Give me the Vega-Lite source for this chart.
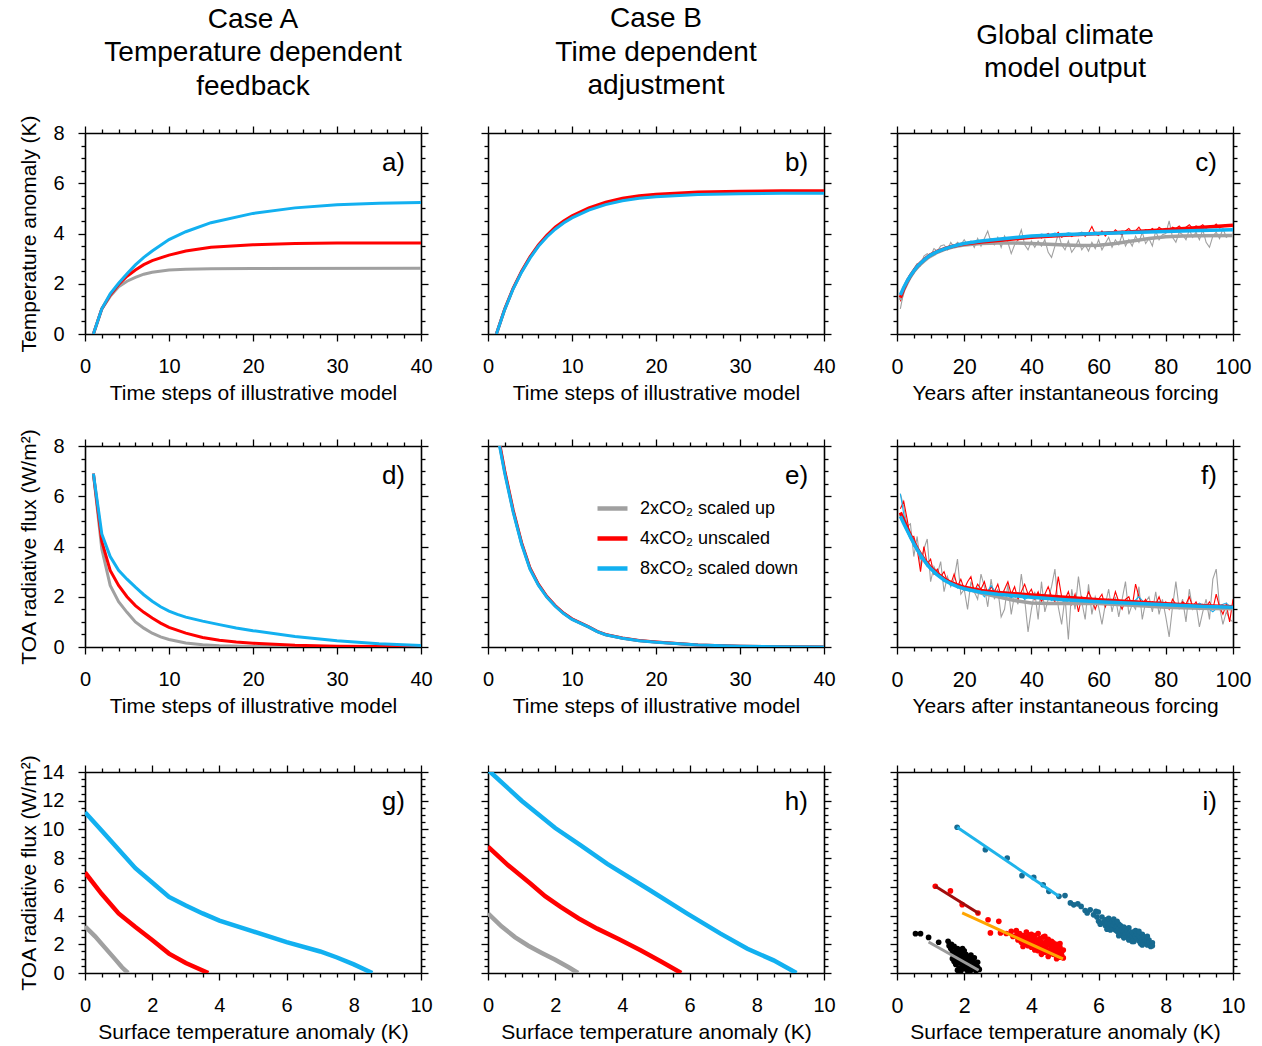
{
"$schema": "https://vega.github.io/schema/vega-lite/v6.json",
"padding": {"left": 17, "top": 5, "right": 5, "bottom": 5},
"config": {
  "view": {"stroke": null},
  "font": "Liberation Sans",
  "axis": {"grid": false, "domainColor": "#000000", "tickColor": "#000000", "labelColor": "#000000", "titleColor": "#000000", "domainWidth": 1.6, "tickWidth": 1.3, "labelFont": "Liberation Sans", "titleFont": "Liberation Sans", "labelFontSize": 20, "titleFontSize": 21, "titleFontWeight": "normal", "labelFlush": false, "labelOverlap": false, "minExtent": 0},
  "title": {"font": "Liberation Sans", "fontWeight": "normal", "color": "#000000", "fontSize": 28, "lineHeight": 33.5, "anchor": "middle", "frame": "group"}
},
"columns": 3,
"align": "each",
"spacing": {"row": 25, "column": 30},
"resolve": {"scale": {"x": "independent", "y": "independent", "color": "independent"}, "axis": {"x": "independent", "y": "independent"}, "legend": {"color": "independent"}},
"datasets": {
"a": [
{"x":1,"y":0,"s":"2x"},{"x":2,"y":1.0,"s":"2x"},{"x":3,"y":1.5,"s":"2x"},{"x":4,"y":1.88,"s":"2x"},{"x":5,"y":2.1,"s":"2x"},{"x":6,"y":2.25,"s":"2x"},{"x":7,"y":2.38,"s":"2x"},{"x":8,"y":2.46,"s":"2x"},{"x":10,"y":2.55,"s":"2x"},{"x":12,"y":2.58,"s":"2x"},{"x":15,"y":2.6,"s":"2x"},{"x":20,"y":2.61,"s":"2x"},{"x":40,"y":2.62,"s":"2x"},
{"x":1,"y":0,"s":"4x"},{"x":2,"y":1.0,"s":"4x"},{"x":3,"y":1.55,"s":"4x"},{"x":4,"y":1.97,"s":"4x"},{"x":5,"y":2.3,"s":"4x"},{"x":6,"y":2.55,"s":"4x"},{"x":7,"y":2.76,"s":"4x"},{"x":8,"y":2.92,"s":"4x"},{"x":10,"y":3.14,"s":"4x"},{"x":12,"y":3.3,"s":"4x"},{"x":15,"y":3.45,"s":"4x"},{"x":20,"y":3.55,"s":"4x"},{"x":25,"y":3.6,"s":"4x"},{"x":30,"y":3.62,"s":"4x"},{"x":40,"y":3.62,"s":"4x"},
{"x":1,"y":0,"s":"8x"},{"x":2,"y":1.0,"s":"8x"},{"x":3,"y":1.6,"s":"8x"},{"x":4,"y":2.02,"s":"8x"},{"x":5,"y":2.4,"s":"8x"},{"x":6,"y":2.75,"s":"8x"},{"x":7,"y":3.05,"s":"8x"},{"x":8,"y":3.3,"s":"8x"},{"x":10,"y":3.76,"s":"8x"},{"x":12,"y":4.07,"s":"8x"},{"x":15,"y":4.43,"s":"8x"},{"x":20,"y":4.8,"s":"8x"},{"x":25,"y":5.02,"s":"8x"},{"x":30,"y":5.14,"s":"8x"},{"x":35,"y":5.2,"s":"8x"},{"x":40,"y":5.23,"s":"8x"}
],
"b": [
{"x":1,"y":0,"s":"2x"},{"x":2,"y":0.99,"s":"2x"},{"x":3,"y":1.81,"s":"2x"},{"x":4,"y":2.48,"s":"2x"},{"x":5,"y":3.04,"s":"2x"},{"x":6,"y":3.51,"s":"2x"},{"x":7,"y":3.89,"s":"2x"},{"x":8,"y":4.2,"s":"2x"},{"x":9,"y":4.45,"s":"2x"},{"x":10,"y":4.65,"s":"2x"},{"x":12,"y":4.97,"s":"2x"},{"x":14,"y":5.19,"s":"2x"},{"x":16,"y":5.34,"s":"2x"},{"x":18,"y":5.44,"s":"2x"},{"x":20,"y":5.5,"s":"2x"},{"x":25,"y":5.59,"s":"2x"},{"x":30,"y":5.62,"s":"2x"},{"x":35,"y":5.64,"s":"2x"},{"x":40,"y":5.64,"s":"2x"},
{"x":1,"y":0,"s":"4x"},{"x":2,"y":1.0,"s":"4x"},{"x":3,"y":1.83,"s":"4x"},{"x":4,"y":2.5,"s":"4x"},{"x":5,"y":3.07,"s":"4x"},{"x":6,"y":3.55,"s":"4x"},{"x":7,"y":3.93,"s":"4x"},{"x":8,"y":4.25,"s":"4x"},{"x":9,"y":4.5,"s":"4x"},{"x":10,"y":4.7,"s":"4x"},{"x":12,"y":5.02,"s":"4x"},{"x":14,"y":5.25,"s":"4x"},{"x":16,"y":5.4,"s":"4x"},{"x":18,"y":5.5,"s":"4x"},{"x":20,"y":5.56,"s":"4x"},{"x":25,"y":5.65,"s":"4x"},{"x":30,"y":5.68,"s":"4x"},{"x":35,"y":5.7,"s":"4x"},{"x":40,"y":5.7,"s":"4x"},
{"x":1,"y":0,"s":"8x"},{"x":2,"y":0.98,"s":"8x"},{"x":3,"y":1.8,"s":"8x"},{"x":4,"y":2.46,"s":"8x"},{"x":5,"y":3.02,"s":"8x"},{"x":6,"y":3.49,"s":"8x"},{"x":7,"y":3.86,"s":"8x"},{"x":8,"y":4.17,"s":"8x"},{"x":9,"y":4.42,"s":"8x"},{"x":10,"y":4.62,"s":"8x"},{"x":12,"y":4.93,"s":"8x"},{"x":14,"y":5.15,"s":"8x"},{"x":16,"y":5.3,"s":"8x"},{"x":18,"y":5.4,"s":"8x"},{"x":20,"y":5.46,"s":"8x"},{"x":25,"y":5.55,"s":"8x"},{"x":30,"y":5.58,"s":"8x"},{"x":35,"y":5.6,"s":"8x"},{"x":40,"y":5.6,"s":"8x"}
],
"c": [
{"x":1,"y":1.0,"s":"2x","k":"a"},{"x":2,"y":1.7,"s":"2x","k":"a"},{"x":3,"y":2.2,"s":"2x","k":"a"},{"x":4,"y":2.2,"s":"2x","k":"a"},{"x":5,"y":2.6,"s":"2x","k":"a"},{"x":6,"y":2.8,"s":"2x","k":"a"},{"x":7,"y":2.7,"s":"2x","k":"a"},{"x":8,"y":3.1,"s":"2x","k":"a"},{"x":9,"y":3.2,"s":"2x","k":"a"},{"x":10,"y":3.1,"s":"2x","k":"a"},
{"x":11,"y":3.4,"s":"2x","k":"a"},{"x":12,"y":3.3,"s":"2x","k":"a"},{"x":13,"y":3.5,"s":"2x","k":"a"},{"x":14,"y":3.55,"s":"2x","k":"a"},{"x":15,"y":3.35,"s":"2x","k":"a"},{"x":16,"y":3.65,"s":"2x","k":"a"},{"x":17,"y":3.45,"s":"2x","k":"a"},{"x":18,"y":3.65,"s":"2x","k":"a"},{"x":19,"y":3.55,"s":"2x","k":"a"},{"x":20,"y":3.75,"s":"2x","k":"a"},
{"x":21,"y":3.55,"s":"2x","k":"a"},{"x":22,"y":3.7,"s":"2x","k":"a"},{"x":23,"y":3.45,"s":"2x","k":"a"},{"x":24,"y":3.8,"s":"2x","k":"a"},{"x":25,"y":3.5,"s":"2x","k":"a"},{"x":26,"y":3.8,"s":"2x","k":"a"},{"x":27,"y":4.1,"s":"2x","k":"a"},{"x":28,"y":3.65,"s":"2x","k":"a"},{"x":29,"y":3.55,"s":"2x","k":"a"},{"x":30,"y":3.85,"s":"2x","k":"a"},
{"x":31,"y":3.45,"s":"2x","k":"a"},{"x":32,"y":3.9,"s":"2x","k":"a"},{"x":33,"y":3.65,"s":"2x","k":"a"},{"x":34,"y":3.2,"s":"2x","k":"a"},{"x":35,"y":3.55,"s":"2x","k":"a"},{"x":36,"y":3.75,"s":"2x","k":"a"},{"x":37,"y":4.15,"s":"2x","k":"a"},{"x":38,"y":3.55,"s":"2x","k":"a"},{"x":39,"y":3.35,"s":"2x","k":"a"},{"x":40,"y":3.7,"s":"2x","k":"a"},
{"x":41,"y":3.45,"s":"2x","k":"a"},{"x":42,"y":3.7,"s":"2x","k":"a"},{"x":43,"y":3.5,"s":"2x","k":"a"},{"x":44,"y":3.75,"s":"2x","k":"a"},{"x":45,"y":3.25,"s":"2x","k":"a"},{"x":46,"y":3.05,"s":"2x","k":"a"},{"x":47,"y":3.5,"s":"2x","k":"a"},{"x":48,"y":4.0,"s":"2x","k":"a"},{"x":49,"y":3.55,"s":"2x","k":"a"},{"x":50,"y":3.35,"s":"2x","k":"a"},
{"x":51,"y":3.7,"s":"2x","k":"a"},{"x":52,"y":3.25,"s":"2x","k":"a"},{"x":53,"y":3.45,"s":"2x","k":"a"},{"x":54,"y":3.75,"s":"2x","k":"a"},{"x":55,"y":3.35,"s":"2x","k":"a"},{"x":56,"y":3.55,"s":"2x","k":"a"},{"x":57,"y":3.3,"s":"2x","k":"a"},{"x":58,"y":3.65,"s":"2x","k":"a"},{"x":59,"y":3.4,"s":"2x","k":"a"},{"x":60,"y":3.75,"s":"2x","k":"a"},
{"x":61,"y":3.35,"s":"2x","k":"a"},{"x":62,"y":3.6,"s":"2x","k":"a"},{"x":63,"y":3.85,"s":"2x","k":"a"},{"x":64,"y":3.45,"s":"2x","k":"a"},{"x":65,"y":3.75,"s":"2x","k":"a"},{"x":66,"y":3.55,"s":"2x","k":"a"},{"x":67,"y":3.95,"s":"2x","k":"a"},{"x":68,"y":3.5,"s":"2x","k":"a"},{"x":69,"y":3.75,"s":"2x","k":"a"},{"x":70,"y":3.5,"s":"2x","k":"a"},
{"x":71,"y":3.9,"s":"2x","k":"a"},{"x":72,"y":3.65,"s":"2x","k":"a"},{"x":73,"y":4.05,"s":"2x","k":"a"},{"x":74,"y":3.6,"s":"2x","k":"a"},{"x":75,"y":3.8,"s":"2x","k":"a"},{"x":76,"y":3.5,"s":"2x","k":"a"},{"x":77,"y":4.1,"s":"2x","k":"a"},{"x":78,"y":3.75,"s":"2x","k":"a"},{"x":79,"y":3.95,"s":"2x","k":"a"},{"x":80,"y":4.0,"s":"2x","k":"a"},
{"x":81,"y":4.5,"s":"2x","k":"a"},{"x":82,"y":3.85,"s":"2x","k":"a"},{"x":83,"y":3.65,"s":"2x","k":"a"},{"x":84,"y":4.05,"s":"2x","k":"a"},{"x":85,"y":3.95,"s":"2x","k":"a"},{"x":86,"y":3.75,"s":"2x","k":"a"},{"x":87,"y":4.15,"s":"2x","k":"a"},{"x":88,"y":3.85,"s":"2x","k":"a"},{"x":89,"y":4.05,"s":"2x","k":"a"},{"x":90,"y":3.75,"s":"2x","k":"a"},
{"x":91,"y":4.15,"s":"2x","k":"a"},{"x":92,"y":3.65,"s":"2x","k":"a"},{"x":93,"y":3.45,"s":"2x","k":"a"},{"x":94,"y":3.9,"s":"2x","k":"a"},{"x":95,"y":4.05,"s":"2x","k":"a"},{"x":96,"y":3.8,"s":"2x","k":"a"},{"x":97,"y":4.2,"s":"2x","k":"a"},{"x":98,"y":3.85,"s":"2x","k":"a"},{"x":99,"y":3.95,"s":"2x","k":"a"},{"x":100,"y":3.9,"s":"2x","k":"a"},
{"x":1,"y":1.3,"s":"4x","k":"a"},{"x":2,"y":1.85,"s":"4x","k":"a"},{"x":3,"y":2.0,"s":"4x","k":"a"},{"x":4,"y":2.35,"s":"4x","k":"a"},{"x":5,"y":2.45,"s":"4x","k":"a"},{"x":6,"y":2.72,"s":"4x","k":"a"},{"x":7,"y":2.75,"s":"4x","k":"a"},{"x":8,"y":2.98,"s":"4x","k":"a"},{"x":9,"y":3.0,"s":"4x","k":"a"},{"x":10,"y":3.2,"s":"4x","k":"a"},
{"x":11,"y":3.15,"s":"4x","k":"a"},{"x":12,"y":3.32,"s":"4x","k":"a"},{"x":13,"y":3.28,"s":"4x","k":"a"},{"x":14,"y":3.42,"s":"4x","k":"a"},{"x":15,"y":3.38,"s":"4x","k":"a"},{"x":16,"y":3.5,"s":"4x","k":"a"},{"x":17,"y":3.45,"s":"4x","k":"a"},{"x":18,"y":3.56,"s":"4x","k":"a"},{"x":19,"y":3.5,"s":"4x","k":"a"},{"x":20,"y":3.6,"s":"4x","k":"a"},
{"x":21,"y":3.55,"s":"4x","k":"a"},{"x":22,"y":3.66,"s":"4x","k":"a"},{"x":23,"y":3.58,"s":"4x","k":"a"},{"x":24,"y":3.65,"s":"4x","k":"a"},{"x":25,"y":3.72,"s":"4x","k":"a"},{"x":26,"y":3.62,"s":"4x","k":"a"},{"x":27,"y":3.7,"s":"4x","k":"a"},{"x":28,"y":3.78,"s":"4x","k":"a"},{"x":29,"y":3.66,"s":"4x","k":"a"},{"x":30,"y":3.74,"s":"4x","k":"a"},
{"x":31,"y":3.7,"s":"4x","k":"a"},{"x":32,"y":3.8,"s":"4x","k":"a"},{"x":33,"y":3.72,"s":"4x","k":"a"},{"x":34,"y":3.78,"s":"4x","k":"a"},{"x":35,"y":3.86,"s":"4x","k":"a"},{"x":36,"y":3.74,"s":"4x","k":"a"},{"x":37,"y":3.84,"s":"4x","k":"a"},{"x":38,"y":3.8,"s":"4x","k":"a"},{"x":39,"y":3.9,"s":"4x","k":"a"},{"x":40,"y":3.8,"s":"4x","k":"a"},
{"x":41,"y":3.87,"s":"4x","k":"a"},{"x":42,"y":3.95,"s":"4x","k":"a"},{"x":43,"y":3.82,"s":"4x","k":"a"},{"x":44,"y":3.92,"s":"4x","k":"a"},{"x":45,"y":4.0,"s":"4x","k":"a"},{"x":46,"y":3.88,"s":"4x","k":"a"},{"x":47,"y":3.92,"s":"4x","k":"a"},{"x":48,"y":4.05,"s":"4x","k":"a"},{"x":49,"y":3.85,"s":"4x","k":"a"},{"x":50,"y":3.93,"s":"4x","k":"a"},
{"x":51,"y":4.0,"s":"4x","k":"a"},{"x":52,"y":3.88,"s":"4x","k":"a"},{"x":53,"y":3.98,"s":"4x","k":"a"},{"x":54,"y":3.92,"s":"4x","k":"a"},{"x":55,"y":4.05,"s":"4x","k":"a"},{"x":56,"y":3.88,"s":"4x","k":"a"},{"x":57,"y":4.02,"s":"4x","k":"a"},{"x":58,"y":4.28,"s":"4x","k":"a"},{"x":59,"y":3.98,"s":"4x","k":"a"},{"x":60,"y":3.92,"s":"4x","k":"a"},
{"x":61,"y":4.1,"s":"4x","k":"a"},{"x":62,"y":3.9,"s":"4x","k":"a"},{"x":63,"y":4.05,"s":"4x","k":"a"},{"x":64,"y":4.0,"s":"4x","k":"a"},{"x":65,"y":4.15,"s":"4x","k":"a"},{"x":66,"y":4.02,"s":"4x","k":"a"},{"x":67,"y":3.95,"s":"4x","k":"a"},{"x":68,"y":4.1,"s":"4x","k":"a"},{"x":69,"y":4.2,"s":"4x","k":"a"},{"x":70,"y":4.05,"s":"4x","k":"a"},
{"x":71,"y":4.1,"s":"4x","k":"a"},{"x":72,"y":4.25,"s":"4x","k":"a"},{"x":73,"y":4.05,"s":"4x","k":"a"},{"x":74,"y":4.15,"s":"4x","k":"a"},{"x":75,"y":4.1,"s":"4x","k":"a"},{"x":76,"y":4.2,"s":"4x","k":"a"},{"x":77,"y":4.08,"s":"4x","k":"a"},{"x":78,"y":4.25,"s":"4x","k":"a"},{"x":79,"y":4.15,"s":"4x","k":"a"},{"x":80,"y":4.2,"s":"4x","k":"a"},
{"x":81,"y":4.1,"s":"4x","k":"a"},{"x":82,"y":4.25,"s":"4x","k":"a"},{"x":83,"y":4.2,"s":"4x","k":"a"},{"x":84,"y":4.3,"s":"4x","k":"a"},{"x":85,"y":4.15,"s":"4x","k":"a"},{"x":86,"y":4.25,"s":"4x","k":"a"},{"x":87,"y":4.35,"s":"4x","k":"a"},{"x":88,"y":4.2,"s":"4x","k":"a"},{"x":89,"y":4.3,"s":"4x","k":"a"},{"x":90,"y":4.25,"s":"4x","k":"a"},
{"x":91,"y":4.35,"s":"4x","k":"a"},{"x":92,"y":4.2,"s":"4x","k":"a"},{"x":93,"y":4.3,"s":"4x","k":"a"},{"x":94,"y":4.25,"s":"4x","k":"a"},{"x":95,"y":4.38,"s":"4x","k":"a"},{"x":96,"y":4.22,"s":"4x","k":"a"},{"x":97,"y":4.3,"s":"4x","k":"a"},{"x":98,"y":4.35,"s":"4x","k":"a"},{"x":99,"y":4.28,"s":"4x","k":"a"},{"x":100,"y":4.35,"s":"4x","k":"a"},
{"x":1,"y":1.5,"s":"8x","k":"a"},{"x":3,"y":2.15,"s":"8x","k":"a"},{"x":5,"y":2.5,"s":"8x","k":"a"},{"x":7,"y":2.85,"s":"8x","k":"a"},{"x":9,"y":3.02,"s":"8x","k":"a"},{"x":11,"y":3.25,"s":"8x","k":"a"},{"x":13,"y":3.3,"s":"8x","k":"a"},{"x":15,"y":3.45,"s":"8x","k":"a"},{"x":17,"y":3.48,"s":"8x","k":"a"},{"x":19,"y":3.6,"s":"8x","k":"a"},
{"x":21,"y":3.58,"s":"8x","k":"a"},{"x":23,"y":3.67,"s":"8x","k":"a"},{"x":25,"y":3.65,"s":"8x","k":"a"},{"x":27,"y":3.74,"s":"8x","k":"a"},{"x":29,"y":3.7,"s":"8x","k":"a"},{"x":31,"y":3.8,"s":"8x","k":"a"},{"x":33,"y":3.76,"s":"8x","k":"a"},{"x":35,"y":3.85,"s":"8x","k":"a"},{"x":37,"y":3.82,"s":"8x","k":"a"},{"x":39,"y":3.92,"s":"8x","k":"a"},
{"x":41,"y":3.88,"s":"8x","k":"a"},{"x":43,"y":3.98,"s":"8x","k":"a"},{"x":45,"y":3.92,"s":"8x","k":"a"},{"x":47,"y":4.02,"s":"8x","k":"a"},{"x":49,"y":3.95,"s":"8x","k":"a"},{"x":51,"y":4.03,"s":"8x","k":"a"},{"x":53,"y":3.97,"s":"8x","k":"a"},{"x":55,"y":4.05,"s":"8x","k":"a"},{"x":57,"y":3.98,"s":"8x","k":"a"},{"x":59,"y":4.06,"s":"8x","k":"a"},
{"x":61,"y":4.0,"s":"8x","k":"a"},{"x":63,"y":4.07,"s":"8x","k":"a"},{"x":65,"y":4.02,"s":"8x","k":"a"},{"x":67,"y":4.1,"s":"8x","k":"a"},{"x":69,"y":4.03,"s":"8x","k":"a"},{"x":71,"y":4.1,"s":"8x","k":"a"},{"x":73,"y":4.05,"s":"8x","k":"a"},{"x":75,"y":4.12,"s":"8x","k":"a"},{"x":77,"y":4.06,"s":"8x","k":"a"},{"x":79,"y":4.13,"s":"8x","k":"a"},
{"x":81,"y":4.07,"s":"8x","k":"a"},{"x":83,"y":4.14,"s":"8x","k":"a"},{"x":85,"y":4.08,"s":"8x","k":"a"},{"x":87,"y":4.16,"s":"8x","k":"a"},{"x":89,"y":4.1,"s":"8x","k":"a"},{"x":91,"y":4.18,"s":"8x","k":"a"},{"x":93,"y":4.11,"s":"8x","k":"a"},{"x":95,"y":4.17,"s":"8x","k":"a"},{"x":97,"y":4.12,"s":"8x","k":"a"},{"x":100,"y":4.15,"s":"8x","k":"a"},
{"x":1,"y":1.35,"s":"2x","k":"m"},{"x":2,"y":1.75,"s":"2x","k":"m"},{"x":3,"y":2.03,"s":"2x","k":"m"},{"x":4,"y":2.28,"s":"2x","k":"m"},{"x":5,"y":2.48,"s":"2x","k":"m"},{"x":6,"y":2.64,"s":"2x","k":"m"},{"x":7,"y":2.78,"s":"2x","k":"m"},{"x":8,"y":2.9,"s":"2x","k":"m"},{"x":9,"y":3.01,"s":"2x","k":"m"},{"x":10,"y":3.1,"s":"2x","k":"m"},{"x":12,"y":3.25,"s":"2x","k":"m"},{"x":14,"y":3.36,"s":"2x","k":"m"},{"x":16,"y":3.44,"s":"2x","k":"m"},{"x":18,"y":3.5,"s":"2x","k":"m"},{"x":20,"y":3.54,"s":"2x","k":"m"},{"x":25,"y":3.6,"s":"2x","k":"m"},{"x":30,"y":3.62,"s":"2x","k":"m"},{"x":35,"y":3.62,"s":"2x","k":"m"},{"x":40,"y":3.6,"s":"2x","k":"m"},{"x":45,"y":3.57,"s":"2x","k":"m"},{"x":50,"y":3.54,"s":"2x","k":"m"},{"x":55,"y":3.52,"s":"2x","k":"m"},{"x":60,"y":3.53,"s":"2x","k":"m"},{"x":65,"y":3.6,"s":"2x","k":"m"},{"x":70,"y":3.7,"s":"2x","k":"m"},{"x":75,"y":3.8,"s":"2x","k":"m"},{"x":80,"y":3.87,"s":"2x","k":"m"},{"x":85,"y":3.9,"s":"2x","k":"m"},{"x":90,"y":3.91,"s":"2x","k":"m"},{"x":100,"y":3.92,"s":"2x","k":"m"},
{"x":1,"y":1.45,"s":"4x","k":"m"},{"x":2,"y":1.8,"s":"4x","k":"m"},{"x":3,"y":2.08,"s":"4x","k":"m"},{"x":4,"y":2.32,"s":"4x","k":"m"},{"x":5,"y":2.52,"s":"4x","k":"m"},{"x":6,"y":2.69,"s":"4x","k":"m"},{"x":7,"y":2.83,"s":"4x","k":"m"},{"x":8,"y":2.95,"s":"4x","k":"m"},{"x":9,"y":3.06,"s":"4x","k":"m"},{"x":10,"y":3.15,"s":"4x","k":"m"},{"x":12,"y":3.29,"s":"4x","k":"m"},{"x":14,"y":3.39,"s":"4x","k":"m"},{"x":16,"y":3.47,"s":"4x","k":"m"},{"x":18,"y":3.53,"s":"4x","k":"m"},{"x":20,"y":3.58,"s":"4x","k":"m"},{"x":25,"y":3.66,"s":"4x","k":"m"},{"x":30,"y":3.72,"s":"4x","k":"m"},{"x":40,"y":3.85,"s":"4x","k":"m"},{"x":50,"y":3.93,"s":"4x","k":"m"},{"x":60,"y":4.0,"s":"4x","k":"m"},{"x":70,"y":4.07,"s":"4x","k":"m"},{"x":80,"y":4.15,"s":"4x","k":"m"},{"x":90,"y":4.24,"s":"4x","k":"m"},{"x":100,"y":4.33,"s":"4x","k":"m"},
{"x":1,"y":1.55,"s":"8x","k":"m"},{"x":2,"y":1.85,"s":"8x","k":"m"},{"x":3,"y":2.1,"s":"8x","k":"m"},{"x":4,"y":2.32,"s":"8x","k":"m"},{"x":5,"y":2.51,"s":"8x","k":"m"},{"x":6,"y":2.68,"s":"8x","k":"m"},{"x":7,"y":2.82,"s":"8x","k":"m"},{"x":8,"y":2.94,"s":"8x","k":"m"},{"x":9,"y":3.05,"s":"8x","k":"m"},{"x":10,"y":3.14,"s":"8x","k":"m"},{"x":12,"y":3.28,"s":"8x","k":"m"},{"x":14,"y":3.38,"s":"8x","k":"m"},{"x":16,"y":3.47,"s":"8x","k":"m"},{"x":18,"y":3.54,"s":"8x","k":"m"},{"x":20,"y":3.6,"s":"8x","k":"m"},{"x":25,"y":3.7,"s":"8x","k":"m"},{"x":30,"y":3.77,"s":"8x","k":"m"},{"x":40,"y":3.9,"s":"8x","k":"m"},{"x":50,"y":3.96,"s":"8x","k":"m"},{"x":60,"y":4.0,"s":"8x","k":"m"},{"x":70,"y":4.04,"s":"8x","k":"m"},{"x":80,"y":4.08,"s":"8x","k":"m"},{"x":90,"y":4.12,"s":"8x","k":"m"},{"x":100,"y":4.15,"s":"8x","k":"m"}
],
"d": [
{"x":1,"y":6.9,"s":"2x"},{"x":2,"y":3.9,"s":"2x"},{"x":3,"y":2.45,"s":"2x"},{"x":4,"y":1.8,"s":"2x"},{"x":5,"y":1.38,"s":"2x"},{"x":6,"y":1.0,"s":"2x"},{"x":7,"y":0.75,"s":"2x"},{"x":8,"y":0.55,"s":"2x"},{"x":9,"y":0.4,"s":"2x"},{"x":10,"y":0.3,"s":"2x"},{"x":12,"y":0.16,"s":"2x"},{"x":14,"y":0.09,"s":"2x"},{"x":16,"y":0.05,"s":"2x"},{"x":20,"y":0.02,"s":"2x"},{"x":40,"y":0,"s":"2x"},
{"x":1,"y":6.9,"s":"4x"},{"x":2,"y":4.2,"s":"4x"},{"x":3,"y":3.05,"s":"4x"},{"x":4,"y":2.45,"s":"4x"},{"x":5,"y":2.0,"s":"4x"},{"x":6,"y":1.65,"s":"4x"},{"x":7,"y":1.38,"s":"4x"},{"x":8,"y":1.15,"s":"4x"},{"x":9,"y":0.95,"s":"4x"},{"x":10,"y":0.78,"s":"4x"},{"x":12,"y":0.55,"s":"4x"},{"x":14,"y":0.38,"s":"4x"},{"x":16,"y":0.27,"s":"4x"},{"x":18,"y":0.2,"s":"4x"},{"x":20,"y":0.15,"s":"4x"},{"x":25,"y":0.07,"s":"4x"},{"x":30,"y":0.03,"s":"4x"},{"x":40,"y":0.01,"s":"4x"},
{"x":1,"y":6.9,"s":"8x"},{"x":2,"y":4.5,"s":"8x"},{"x":3,"y":3.6,"s":"8x"},{"x":4,"y":3.05,"s":"8x"},{"x":5,"y":2.7,"s":"8x"},{"x":6,"y":2.38,"s":"8x"},{"x":7,"y":2.08,"s":"8x"},{"x":8,"y":1.82,"s":"8x"},{"x":9,"y":1.6,"s":"8x"},{"x":10,"y":1.43,"s":"8x"},{"x":11,"y":1.3,"s":"8x"},{"x":12,"y":1.19,"s":"8x"},{"x":14,"y":1.03,"s":"8x"},{"x":16,"y":0.89,"s":"8x"},{"x":18,"y":0.76,"s":"8x"},{"x":20,"y":0.65,"s":"8x"},{"x":25,"y":0.42,"s":"8x"},{"x":30,"y":0.25,"s":"8x"},{"x":35,"y":0.13,"s":"8x"},{"x":40,"y":0.06,"s":"8x"}
],
"e": [
{"x":1,"y":8.7,"s":"2x"},{"x":2,"y":6.95,"s":"2x"},{"x":3,"y":5.4,"s":"2x"},{"x":4,"y":4.12,"s":"2x"},{"x":5,"y":3.12,"s":"2x"},{"x":6,"y":2.48,"s":"2x"},{"x":7,"y":2.0,"s":"2x"},{"x":8,"y":1.63,"s":"2x"},{"x":9,"y":1.34,"s":"2x"},{"x":10,"y":1.11,"s":"2x"},{"x":12,"y":0.79,"s":"2x"},{"x":13,"y":0.61,"s":"2x"},{"x":14,"y":0.49,"s":"2x"},{"x":16,"y":0.35,"s":"2x"},{"x":18,"y":0.25,"s":"2x"},{"x":20,"y":0.2,"s":"2x"},{"x":25,"y":0.08,"s":"2x"},{"x":30,"y":0.03,"s":"2x"},{"x":35,"y":0.01,"s":"2x"},{"x":40,"y":0,"s":"2x"},
{"x":1,"y":8.8,"s":"4x"},{"x":2,"y":7.0,"s":"4x"},{"x":3,"y":5.45,"s":"4x"},{"x":4,"y":4.15,"s":"4x"},{"x":5,"y":3.15,"s":"4x"},{"x":6,"y":2.5,"s":"4x"},{"x":7,"y":2.02,"s":"4x"},{"x":8,"y":1.65,"s":"4x"},{"x":9,"y":1.35,"s":"4x"},{"x":10,"y":1.12,"s":"4x"},{"x":12,"y":0.8,"s":"4x"},{"x":13,"y":0.62,"s":"4x"},{"x":14,"y":0.5,"s":"4x"},{"x":16,"y":0.36,"s":"4x"},{"x":18,"y":0.26,"s":"4x"},{"x":20,"y":0.2,"s":"4x"},{"x":25,"y":0.08,"s":"4x"},{"x":30,"y":0.03,"s":"4x"},{"x":35,"y":0.01,"s":"4x"},{"x":40,"y":0,"s":"4x"},
{"x":1,"y":8.67,"s":"8x"},{"x":2,"y":6.9,"s":"8x"},{"x":3,"y":5.37,"s":"8x"},{"x":4,"y":4.09,"s":"8x"},{"x":5,"y":3.1,"s":"8x"},{"x":6,"y":2.46,"s":"8x"},{"x":7,"y":1.99,"s":"8x"},{"x":8,"y":1.62,"s":"8x"},{"x":9,"y":1.33,"s":"8x"},{"x":10,"y":1.1,"s":"8x"},{"x":12,"y":0.79,"s":"8x"},{"x":13,"y":0.61,"s":"8x"},{"x":14,"y":0.49,"s":"8x"},{"x":16,"y":0.35,"s":"8x"},{"x":18,"y":0.25,"s":"8x"},{"x":20,"y":0.19,"s":"8x"},{"x":25,"y":0.08,"s":"8x"},{"x":30,"y":0.03,"s":"8x"},{"x":35,"y":0.01,"s":"8x"},{"x":40,"y":0,"s":"8x"}
],
"f": [
{"x":1,"y":6.1,"s":"2x","k":"a"},{"x":2,"y":5.6,"s":"2x","k":"a"},{"x":3,"y":4.8,"s":"2x","k":"a"},{"x":4,"y":4.9,"s":"2x","k":"a"},{"x":5,"y":3.6,"s":"2x","k":"a"},{"x":6,"y":4.4,"s":"2x","k":"a"},{"x":7,"y":3.2,"s":"2x","k":"a"},{"x":8,"y":3.9,"s":"2x","k":"a"},{"x":9,"y":4.3,"s":"2x","k":"a"},{"x":10,"y":2.6,"s":"2x","k":"a"},
{"x":11,"y":3.2,"s":"2x","k":"a"},{"x":12,"y":2.9,"s":"2x","k":"a"},{"x":13,"y":3.4,"s":"2x","k":"a"},{"x":14,"y":2.2,"s":"2x","k":"a"},{"x":15,"y":2.8,"s":"2x","k":"a"},{"x":16,"y":2.4,"s":"2x","k":"a"},{"x":17,"y":2.7,"s":"2x","k":"a"},{"x":18,"y":3.5,"s":"2x","k":"a"},{"x":19,"y":2.1,"s":"2x","k":"a"},{"x":20,"y":2.3,"s":"2x","k":"a"},
{"x":21,"y":1.5,"s":"2x","k":"a"},{"x":22,"y":2.6,"s":"2x","k":"a"},{"x":23,"y":2.2,"s":"2x","k":"a"},{"x":24,"y":1.9,"s":"2x","k":"a"},{"x":25,"y":2.9,"s":"2x","k":"a"},{"x":26,"y":2.4,"s":"2x","k":"a"},{"x":27,"y":1.6,"s":"2x","k":"a"},{"x":28,"y":2.7,"s":"2x","k":"a"},{"x":29,"y":1.9,"s":"2x","k":"a"},{"x":30,"y":2.3,"s":"2x","k":"a"},
{"x":31,"y":1.2,"s":"2x","k":"a"},{"x":32,"y":1.5,"s":"2x","k":"a"},{"x":33,"y":2.5,"s":"2x","k":"a"},{"x":34,"y":1.3,"s":"2x","k":"a"},{"x":35,"y":2.1,"s":"2x","k":"a"},{"x":36,"y":1.7,"s":"2x","k":"a"},{"x":37,"y":2.9,"s":"2x","k":"a"},{"x":38,"y":1.9,"s":"2x","k":"a"},{"x":39,"y":0.6,"s":"2x","k":"a"},{"x":40,"y":1.5,"s":"2x","k":"a"},
{"x":41,"y":2.2,"s":"2x","k":"a"},{"x":42,"y":1.1,"s":"2x","k":"a"},{"x":43,"y":2.6,"s":"2x","k":"a"},{"x":44,"y":1.4,"s":"2x","k":"a"},{"x":45,"y":1.9,"s":"2x","k":"a"},{"x":46,"y":2.4,"s":"2x","k":"a"},{"x":47,"y":3.1,"s":"2x","k":"a"},{"x":48,"y":1.6,"s":"2x","k":"a"},{"x":49,"y":0.9,"s":"2x","k":"a"},{"x":50,"y":2.0,"s":"2x","k":"a"},
{"x":51,"y":0.3,"s":"2x","k":"a"},{"x":52,"y":2.3,"s":"2x","k":"a"},{"x":53,"y":1.5,"s":"2x","k":"a"},{"x":54,"y":2.8,"s":"2x","k":"a"},{"x":55,"y":1.8,"s":"2x","k":"a"},{"x":56,"y":1.1,"s":"2x","k":"a"},{"x":57,"y":2.5,"s":"2x","k":"a"},{"x":58,"y":1.3,"s":"2x","k":"a"},{"x":59,"y":2.0,"s":"2x","k":"a"},{"x":60,"y":1.6,"s":"2x","k":"a"},
{"x":61,"y":0.9,"s":"2x","k":"a"},{"x":62,"y":1.7,"s":"2x","k":"a"},{"x":63,"y":2.3,"s":"2x","k":"a"},{"x":64,"y":1.4,"s":"2x","k":"a"},{"x":65,"y":2.0,"s":"2x","k":"a"},{"x":66,"y":1.2,"s":"2x","k":"a"},{"x":67,"y":1.9,"s":"2x","k":"a"},{"x":68,"y":2.6,"s":"2x","k":"a"},{"x":69,"y":1.3,"s":"2x","k":"a"},{"x":70,"y":1.7,"s":"2x","k":"a"},
{"x":71,"y":1.5,"s":"2x","k":"a"},{"x":72,"y":2.4,"s":"2x","k":"a"},{"x":73,"y":1.1,"s":"2x","k":"a"},{"x":74,"y":1.8,"s":"2x","k":"a"},{"x":75,"y":2.0,"s":"2x","k":"a"},{"x":76,"y":1.4,"s":"2x","k":"a"},{"x":77,"y":2.2,"s":"2x","k":"a"},{"x":78,"y":1.3,"s":"2x","k":"a"},{"x":79,"y":1.9,"s":"2x","k":"a"},{"x":80,"y":1.2,"s":"2x","k":"a"},
{"x":81,"y":0.4,"s":"2x","k":"a"},{"x":82,"y":1.6,"s":"2x","k":"a"},{"x":83,"y":2.6,"s":"2x","k":"a"},{"x":84,"y":1.5,"s":"2x","k":"a"},{"x":85,"y":1.9,"s":"2x","k":"a"},{"x":86,"y":1.0,"s":"2x","k":"a"},{"x":87,"y":2.3,"s":"2x","k":"a"},{"x":88,"y":1.5,"s":"2x","k":"a"},{"x":89,"y":1.7,"s":"2x","k":"a"},{"x":90,"y":0.8,"s":"2x","k":"a"},
{"x":91,"y":1.4,"s":"2x","k":"a"},{"x":92,"y":1.9,"s":"2x","k":"a"},{"x":93,"y":1.1,"s":"2x","k":"a"},{"x":94,"y":2.7,"s":"2x","k":"a"},{"x":95,"y":3.1,"s":"2x","k":"a"},{"x":96,"y":1.6,"s":"2x","k":"a"},{"x":97,"y":0.9,"s":"2x","k":"a"},{"x":98,"y":1.4,"s":"2x","k":"a"},{"x":99,"y":1.1,"s":"2x","k":"a"},{"x":100,"y":1.0,"s":"2x","k":"a"},
{"x":1,"y":5.5,"s":"4x","k":"a"},{"x":2,"y":5.8,"s":"4x","k":"a"},{"x":3,"y":5.1,"s":"4x","k":"a"},{"x":4,"y":4.3,"s":"4x","k":"a"},{"x":5,"y":4.4,"s":"4x","k":"a"},{"x":6,"y":3.9,"s":"4x","k":"a"},{"x":7,"y":3.0,"s":"4x","k":"a"},{"x":8,"y":4.0,"s":"4x","k":"a"},{"x":9,"y":3.3,"s":"4x","k":"a"},{"x":10,"y":3.5,"s":"4x","k":"a"},
{"x":11,"y":2.9,"s":"4x","k":"a"},{"x":12,"y":3.1,"s":"4x","k":"a"},{"x":13,"y":2.8,"s":"4x","k":"a"},{"x":14,"y":3.0,"s":"4x","k":"a"},{"x":15,"y":2.6,"s":"4x","k":"a"},{"x":16,"y":2.5,"s":"4x","k":"a"},{"x":17,"y":2.9,"s":"4x","k":"a"},{"x":18,"y":2.4,"s":"4x","k":"a"},{"x":19,"y":2.7,"s":"4x","k":"a"},{"x":20,"y":2.3,"s":"4x","k":"a"},
{"x":21,"y":2.6,"s":"4x","k":"a"},{"x":22,"y":2.8,"s":"4x","k":"a"},{"x":23,"y":2.2,"s":"4x","k":"a"},{"x":24,"y":2.5,"s":"4x","k":"a"},{"x":25,"y":2.3,"s":"4x","k":"a"},{"x":26,"y":2.6,"s":"4x","k":"a"},{"x":27,"y":2.1,"s":"4x","k":"a"},{"x":28,"y":2.4,"s":"4x","k":"a"},{"x":29,"y":2.2,"s":"4x","k":"a"},{"x":30,"y":2.5,"s":"4x","k":"a"},
{"x":31,"y":2.0,"s":"4x","k":"a"},{"x":32,"y":2.3,"s":"4x","k":"a"},{"x":33,"y":2.6,"s":"4x","k":"a"},{"x":34,"y":2.1,"s":"4x","k":"a"},{"x":35,"y":2.4,"s":"4x","k":"a"},{"x":36,"y":1.9,"s":"4x","k":"a"},{"x":37,"y":2.2,"s":"4x","k":"a"},{"x":38,"y":2.5,"s":"4x","k":"a"},{"x":39,"y":2.1,"s":"4x","k":"a"},{"x":40,"y":2.3,"s":"4x","k":"a"},
{"x":41,"y":1.9,"s":"4x","k":"a"},{"x":42,"y":2.2,"s":"4x","k":"a"},{"x":43,"y":1.8,"s":"4x","k":"a"},{"x":44,"y":2.1,"s":"4x","k":"a"},{"x":45,"y":2.4,"s":"4x","k":"a"},{"x":46,"y":2.0,"s":"4x","k":"a"},{"x":47,"y":1.8,"s":"4x","k":"a"},{"x":48,"y":2.8,"s":"4x","k":"a"},{"x":49,"y":2.0,"s":"4x","k":"a"},{"x":50,"y":1.9,"s":"4x","k":"a"},
{"x":51,"y":2.2,"s":"4x","k":"a"},{"x":52,"y":1.7,"s":"4x","k":"a"},{"x":53,"y":2.1,"s":"4x","k":"a"},{"x":54,"y":1.4,"s":"4x","k":"a"},{"x":55,"y":2.0,"s":"4x","k":"a"},{"x":56,"y":1.8,"s":"4x","k":"a"},{"x":57,"y":2.2,"s":"4x","k":"a"},{"x":58,"y":1.9,"s":"4x","k":"a"},{"x":59,"y":1.5,"s":"4x","k":"a"},{"x":60,"y":1.9,"s":"4x","k":"a"},
{"x":61,"y":2.1,"s":"4x","k":"a"},{"x":62,"y":1.6,"s":"4x","k":"a"},{"x":63,"y":1.9,"s":"4x","k":"a"},{"x":64,"y":1.7,"s":"4x","k":"a"},{"x":65,"y":2.2,"s":"4x","k":"a"},{"x":66,"y":1.8,"s":"4x","k":"a"},{"x":67,"y":1.5,"s":"4x","k":"a"},{"x":68,"y":1.9,"s":"4x","k":"a"},{"x":69,"y":2.0,"s":"4x","k":"a"},{"x":70,"y":1.6,"s":"4x","k":"a"},
{"x":71,"y":2.5,"s":"4x","k":"a"},{"x":72,"y":2.0,"s":"4x","k":"a"},{"x":73,"y":1.7,"s":"4x","k":"a"},{"x":74,"y":1.9,"s":"4x","k":"a"},{"x":75,"y":1.6,"s":"4x","k":"a"},{"x":76,"y":1.8,"s":"4x","k":"a"},{"x":77,"y":1.7,"s":"4x","k":"a"},{"x":78,"y":2.0,"s":"4x","k":"a"},{"x":79,"y":1.6,"s":"4x","k":"a"},{"x":80,"y":1.8,"s":"4x","k":"a"},
{"x":81,"y":1.5,"s":"4x","k":"a"},{"x":82,"y":1.9,"s":"4x","k":"a"},{"x":83,"y":1.7,"s":"4x","k":"a"},{"x":84,"y":1.6,"s":"4x","k":"a"},{"x":85,"y":1.8,"s":"4x","k":"a"},{"x":86,"y":1.7,"s":"4x","k":"a"},{"x":87,"y":2.0,"s":"4x","k":"a"},{"x":88,"y":1.6,"s":"4x","k":"a"},{"x":89,"y":1.8,"s":"4x","k":"a"},{"x":90,"y":1.5,"s":"4x","k":"a"},
{"x":91,"y":1.7,"s":"4x","k":"a"},{"x":92,"y":1.6,"s":"4x","k":"a"},{"x":93,"y":1.8,"s":"4x","k":"a"},{"x":94,"y":1.5,"s":"4x","k":"a"},{"x":95,"y":2.1,"s":"4x","k":"a"},{"x":96,"y":1.6,"s":"4x","k":"a"},{"x":97,"y":1.3,"s":"4x","k":"a"},{"x":98,"y":1.7,"s":"4x","k":"a"},{"x":99,"y":1.0,"s":"4x","k":"a"},{"x":100,"y":1.9,"s":"4x","k":"a"},
{"x":1,"y":6.1,"s":"8x","k":"a"},{"x":2,"y":5.3,"s":"8x","k":"a"},{"x":3,"y":4.6,"s":"8x","k":"a"},{"x":4,"y":4.5,"s":"8x","k":"a"},{"x":5,"y":4.0,"s":"8x","k":"a"},{"x":6,"y":3.95,"s":"8x","k":"a"},{"x":7,"y":3.5,"s":"8x","k":"a"},{"x":8,"y":3.55,"s":"8x","k":"a"},{"x":9,"y":3.2,"s":"8x","k":"a"},{"x":10,"y":3.25,"s":"8x","k":"a"},
{"x":11,"y":2.9,"s":"8x","k":"a"},{"x":12,"y":2.85,"s":"8x","k":"a"},{"x":13,"y":2.75,"s":"8x","k":"a"},{"x":14,"y":2.6,"s":"8x","k":"a"},{"x":15,"y":2.65,"s":"8x","k":"a"},{"x":16,"y":2.45,"s":"8x","k":"a"},{"x":17,"y":2.55,"s":"8x","k":"a"},{"x":18,"y":2.35,"s":"8x","k":"a"},{"x":19,"y":2.45,"s":"8x","k":"a"},{"x":20,"y":2.3,"s":"8x","k":"a"},
{"x":22,"y":2.2,"s":"8x","k":"a"},{"x":24,"y":2.35,"s":"8x","k":"a"},{"x":26,"y":2.0,"s":"8x","k":"a"},{"x":28,"y":2.45,"s":"8x","k":"a"},{"x":30,"y":2.05,"s":"8x","k":"a"},{"x":32,"y":2.2,"s":"8x","k":"a"},{"x":34,"y":1.95,"s":"8x","k":"a"},{"x":36,"y":2.15,"s":"8x","k":"a"},{"x":38,"y":1.9,"s":"8x","k":"a"},{"x":40,"y":2.05,"s":"8x","k":"a"},
{"x":42,"y":1.95,"s":"8x","k":"a"},{"x":44,"y":2.1,"s":"8x","k":"a"},{"x":46,"y":1.85,"s":"8x","k":"a"},{"x":48,"y":2.0,"s":"8x","k":"a"},{"x":50,"y":1.75,"s":"8x","k":"a"},{"x":52,"y":1.95,"s":"8x","k":"a"},{"x":54,"y":1.8,"s":"8x","k":"a"},{"x":56,"y":1.9,"s":"8x","k":"a"},{"x":58,"y":1.7,"s":"8x","k":"a"},{"x":60,"y":1.85,"s":"8x","k":"a"},
{"x":62,"y":1.75,"s":"8x","k":"a"},{"x":64,"y":1.9,"s":"8x","k":"a"},{"x":66,"y":1.65,"s":"8x","k":"a"},{"x":68,"y":1.85,"s":"8x","k":"a"},{"x":70,"y":1.75,"s":"8x","k":"a"},{"x":72,"y":2.0,"s":"8x","k":"a"},{"x":74,"y":1.7,"s":"8x","k":"a"},{"x":76,"y":1.6,"s":"8x","k":"a"},{"x":78,"y":1.8,"s":"8x","k":"a"},{"x":80,"y":1.65,"s":"8x","k":"a"},
{"x":82,"y":1.75,"s":"8x","k":"a"},{"x":84,"y":1.6,"s":"8x","k":"a"},{"x":86,"y":1.7,"s":"8x","k":"a"},{"x":88,"y":1.55,"s":"8x","k":"a"},{"x":90,"y":1.75,"s":"8x","k":"a"},{"x":92,"y":1.6,"s":"8x","k":"a"},{"x":94,"y":1.4,"s":"8x","k":"a"},{"x":96,"y":1.65,"s":"8x","k":"a"},{"x":98,"y":1.75,"s":"8x","k":"a"},{"x":100,"y":1.5,"s":"8x","k":"a"},
{"x":1,"y":5.3,"s":"2x","k":"m"},{"x":2,"y":5.0,"s":"2x","k":"m"},{"x":3,"y":4.7,"s":"2x","k":"m"},{"x":4,"y":4.4,"s":"2x","k":"m"},{"x":5,"y":4.15,"s":"2x","k":"m"},{"x":6,"y":3.9,"s":"2x","k":"m"},{"x":7,"y":3.68,"s":"2x","k":"m"},{"x":8,"y":3.48,"s":"2x","k":"m"},{"x":9,"y":3.3,"s":"2x","k":"m"},{"x":10,"y":3.15,"s":"2x","k":"m"},{"x":12,"y":2.9,"s":"2x","k":"m"},{"x":14,"y":2.7,"s":"2x","k":"m"},{"x":16,"y":2.55,"s":"2x","k":"m"},{"x":18,"y":2.43,"s":"2x","k":"m"},{"x":20,"y":2.35,"s":"2x","k":"m"},{"x":25,"y":2.15,"s":"2x","k":"m"},{"x":30,"y":2.0,"s":"2x","k":"m"},{"x":35,"y":1.85,"s":"2x","k":"m"},{"x":40,"y":1.75,"s":"2x","k":"m"},{"x":45,"y":1.73,"s":"2x","k":"m"},{"x":50,"y":1.74,"s":"2x","k":"m"},{"x":60,"y":1.73,"s":"2x","k":"m"},{"x":70,"y":1.66,"s":"2x","k":"m"},{"x":80,"y":1.58,"s":"2x","k":"m"},{"x":90,"y":1.54,"s":"2x","k":"m"},{"x":100,"y":1.52,"s":"2x","k":"m"},
{"x":1,"y":5.35,"s":"4x","k":"m"},{"x":2,"y":5.05,"s":"4x","k":"m"},{"x":3,"y":4.75,"s":"4x","k":"m"},{"x":4,"y":4.45,"s":"4x","k":"m"},{"x":5,"y":4.18,"s":"4x","k":"m"},{"x":6,"y":3.93,"s":"4x","k":"m"},{"x":7,"y":3.7,"s":"4x","k":"m"},{"x":8,"y":3.5,"s":"4x","k":"m"},{"x":9,"y":3.33,"s":"4x","k":"m"},{"x":10,"y":3.17,"s":"4x","k":"m"},{"x":12,"y":2.92,"s":"4x","k":"m"},{"x":14,"y":2.72,"s":"4x","k":"m"},{"x":16,"y":2.57,"s":"4x","k":"m"},{"x":18,"y":2.46,"s":"4x","k":"m"},{"x":20,"y":2.38,"s":"4x","k":"m"},{"x":25,"y":2.25,"s":"4x","k":"m"},{"x":30,"y":2.17,"s":"4x","k":"m"},{"x":40,"y":2.07,"s":"4x","k":"m"},{"x":50,"y":1.98,"s":"4x","k":"m"},{"x":60,"y":1.88,"s":"4x","k":"m"},{"x":70,"y":1.8,"s":"4x","k":"m"},{"x":80,"y":1.72,"s":"4x","k":"m"},{"x":90,"y":1.65,"s":"4x","k":"m"},{"x":100,"y":1.6,"s":"4x","k":"m"},
{"x":1,"y":5.2,"s":"8x","k":"m"},{"x":2,"y":4.92,"s":"8x","k":"m"},{"x":3,"y":4.65,"s":"8x","k":"m"},{"x":4,"y":4.38,"s":"8x","k":"m"},{"x":5,"y":4.12,"s":"8x","k":"m"},{"x":6,"y":3.88,"s":"8x","k":"m"},{"x":7,"y":3.66,"s":"8x","k":"m"},{"x":8,"y":3.46,"s":"8x","k":"m"},{"x":9,"y":3.28,"s":"8x","k":"m"},{"x":10,"y":3.12,"s":"8x","k":"m"},{"x":12,"y":2.87,"s":"8x","k":"m"},{"x":14,"y":2.67,"s":"8x","k":"m"},{"x":16,"y":2.52,"s":"8x","k":"m"},{"x":18,"y":2.4,"s":"8x","k":"m"},{"x":20,"y":2.32,"s":"8x","k":"m"},{"x":25,"y":2.18,"s":"8x","k":"m"},{"x":30,"y":2.1,"s":"8x","k":"m"},{"x":40,"y":1.98,"s":"8x","k":"m"},{"x":50,"y":1.88,"s":"8x","k":"m"},{"x":60,"y":1.8,"s":"8x","k":"m"},{"x":70,"y":1.74,"s":"8x","k":"m"},{"x":80,"y":1.68,"s":"8x","k":"m"},{"x":90,"y":1.62,"s":"8x","k":"m"},{"x":100,"y":1.58,"s":"8x","k":"m"}
],
"g": [
{"x":0,"y":3.25,"s":"2x"},{"x":0.3,"y":2.55,"s":"2x"},{"x":0.6,"y":1.75,"s":"2x"},{"x":0.9,"y":0.95,"s":"2x"},{"x":1.1,"y":0.4,"s":"2x"},{"x":1.28,"y":0,"s":"2x"},
{"x":0,"y":7.0,"s":"4x"},{"x":0.5,"y":5.5,"s":"4x"},{"x":1,"y":4.15,"s":"4x"},{"x":1.5,"y":3.2,"s":"4x"},{"x":2,"y":2.3,"s":"4x"},{"x":2.5,"y":1.35,"s":"4x"},{"x":3,"y":0.7,"s":"4x"},{"x":3.67,"y":0,"s":"4x"},
{"x":0,"y":11.2,"s":"8x"},{"x":0.5,"y":9.9,"s":"8x"},{"x":1,"y":8.6,"s":"8x"},{"x":1.5,"y":7.3,"s":"8x"},{"x":2,"y":6.3,"s":"8x"},{"x":2.5,"y":5.3,"s":"8x"},{"x":3,"y":4.7,"s":"8x"},{"x":3.5,"y":4.15,"s":"8x"},{"x":4,"y":3.65,"s":"8x"},{"x":5,"y":2.9,"s":"8x"},{"x":6,"y":2.15,"s":"8x"},{"x":7,"y":1.5,"s":"8x"},{"x":7.5,"y":1.08,"s":"8x"},{"x":8,"y":0.6,"s":"8x"},{"x":8.55,"y":0,"s":"8x"}
],
"h": [
{"x":0,"y":4.15,"s":"2x"},{"x":0.4,"y":3.25,"s":"2x"},{"x":0.8,"y":2.5,"s":"2x"},{"x":1.2,"y":1.9,"s":"2x"},{"x":1.6,"y":1.4,"s":"2x"},{"x":2.0,"y":0.92,"s":"2x"},{"x":2.4,"y":0.4,"s":"2x"},{"x":2.68,"y":0,"s":"2x"},
{"x":0,"y":8.8,"s":"4x"},{"x":0.6,"y":7.5,"s":"4x"},{"x":1.27,"y":6.22,"s":"4x"},{"x":1.7,"y":5.35,"s":"4x"},{"x":2.16,"y":4.6,"s":"4x"},{"x":2.7,"y":3.8,"s":"4x"},{"x":3.25,"y":3.09,"s":"4x"},{"x":3.9,"y":2.35,"s":"4x"},{"x":4.54,"y":1.58,"s":"4x"},{"x":5.15,"y":0.8,"s":"4x"},{"x":5.75,"y":0,"s":"4x"},
{"x":0,"y":14.15,"s":"8x"},{"x":1,"y":12.0,"s":"8x"},{"x":2,"y":10.1,"s":"8x"},{"x":2.75,"y":8.9,"s":"8x"},{"x":3.55,"y":7.6,"s":"8x"},{"x":4.75,"y":5.87,"s":"8x"},{"x":5.93,"y":4.13,"s":"8x"},{"x":6.92,"y":2.74,"s":"8x"},{"x":7.72,"y":1.69,"s":"8x"},{"x":8.5,"y":0.88,"s":"8x"},{"x":9.18,"y":0,"s":"8x"}
],
"ip": [
{"x":0.55,"y":2.74,"g":"2p"},{"x":0.7,"y":2.74,"g":"2p"},{"x":0.94,"y":2.48,"g":"2p"},{"x":1.24,"y":2.14,"g":"2p"},{"x":1.52,"y":2.21,"g":"2p"},{"x":1.55,"y":1.9,"g":"2p"},{"x":1.62,"y":2.0,"g":"2p"},
{"x":1.6,"y":1.7,"g":"2p"},{"x":1.65,"y":1.45,"g":"2p"},{"x":1.7,"y":1.85,"g":"2p"},{"x":1.7,"y":1.2,"g":"2p"},{"x":1.75,"y":1.55,"g":"2p"},{"x":1.75,"y":0.95,"g":"2p"},{"x":1.8,"y":1.35,"g":"2p"},{"x":1.8,"y":1.7,"g":"2p"},{"x":1.85,"y":1.1,"g":"2p"},{"x":1.85,"y":0.7,"g":"2p"},
{"x":1.9,"y":1.45,"g":"2p"},{"x":1.9,"y":0.9,"g":"2p"},{"x":1.95,"y":1.2,"g":"2p"},{"x":1.95,"y":0.5,"g":"2p"},{"x":2.0,"y":1.0,"g":"2p"},{"x":2.0,"y":1.55,"g":"2p"},{"x":2.0,"y":0.3,"g":"2p"},{"x":2.05,"y":0.75,"g":"2p"},{"x":2.05,"y":1.3,"g":"2p"},{"x":2.1,"y":0.95,"g":"2p"},
{"x":2.1,"y":0.4,"g":"2p"},{"x":2.15,"y":1.15,"g":"2p"},{"x":2.15,"y":0.6,"g":"2p"},{"x":2.2,"y":0.85,"g":"2p"},{"x":2.2,"y":0.2,"g":"2p"},{"x":2.25,"y":1.0,"g":"2p"},{"x":2.25,"y":0.45,"g":"2p"},{"x":2.3,"y":0.7,"g":"2p"},{"x":2.3,"y":0.3,"g":"2p"},{"x":2.35,"y":0.55,"g":"2p"},
{"x":2.4,"y":0.4,"g":"2p"},{"x":2.45,"y":0.25,"g":"2p"},{"x":1.85,"y":0.35,"g":"2p"},{"x":1.75,"y":0.6,"g":"2p"},{"x":2.1,"y":0.15,"g":"2p"},{"x":1.65,"y":1.0,"g":"2p"},{"x":1.95,"y":1.7,"g":"2p"},{"x":2.2,"y":1.25,"g":"2p"},{"x":2.4,"y":0.75,"g":"2p"},{"x":1.8,"y":0.2,"g":"2p"},
{"x":2.0,"y":0.65,"g":"2p"},{"x":1.9,"y":0.15,"g":"2p"},{"x":2.3,"y":1.05,"g":"2p"},{"x":1.7,"y":0.8,"g":"2p"},{"x":2.35,"y":0.15,"g":"2p"},
{"x":1.14,"y":6.04,"g":"4p"},{"x":1.59,"y":5.72,"g":"4p"},{"x":1.94,"y":4.76,"g":"4p"},{"x":2.41,"y":4.18,"g":"4p"},{"x":2.71,"y":3.71,"g":"4p"},{"x":3.03,"y":3.6,"g":"4p"},{"x":2.78,"y":2.79,"g":"4p"},{"x":3.08,"y":2.79,"g":"4p"},{"x":3.25,"y":2.75,"g":"4p"},{"x":3.45,"y":2.55,"g":"4p"},{"x":3.4,"y":2.9,"g":"4p"},{"x":3.55,"y":2.95,"g":"4p"},
{"x":3.55,"y":2.6,"g":"4p"},{"x":3.6,"y":2.3,"g":"4p"},{"x":3.65,"y":2.75,"g":"4p"},{"x":3.7,"y":2.45,"g":"4p"},{"x":3.7,"y":2.15,"g":"4p"},{"x":3.75,"y":2.6,"g":"4p"},{"x":3.8,"y":2.35,"g":"4p"},{"x":3.8,"y":2.0,"g":"4p"},{"x":3.85,"y":2.5,"g":"4p"},{"x":3.9,"y":2.2,"g":"4p"},
{"x":3.9,"y":1.9,"g":"4p"},{"x":3.95,"y":2.65,"g":"4p"},{"x":3.95,"y":2.35,"g":"4p"},{"x":4.0,"y":2.05,"g":"4p"},{"x":4.0,"y":1.8,"g":"4p"},{"x":4.05,"y":2.45,"g":"4p"},{"x":4.05,"y":2.2,"g":"4p"},{"x":4.1,"y":1.95,"g":"4p"},{"x":4.1,"y":2.6,"g":"4p"},{"x":4.15,"y":1.7,"g":"4p"},
{"x":4.15,"y":2.3,"g":"4p"},{"x":4.2,"y":2.05,"g":"4p"},{"x":4.2,"y":1.55,"g":"4p"},{"x":4.25,"y":2.4,"g":"4p"},{"x":4.25,"y":1.85,"g":"4p"},{"x":4.3,"y":2.15,"g":"4p"},{"x":4.3,"y":1.6,"g":"4p"},{"x":4.35,"y":1.95,"g":"4p"},{"x":4.35,"y":2.5,"g":"4p"},{"x":4.4,"y":1.75,"g":"4p"},
{"x":4.4,"y":1.45,"g":"4p"},{"x":4.45,"y":2.2,"g":"4p"},{"x":4.45,"y":1.9,"g":"4p"},{"x":4.5,"y":1.6,"g":"4p"},{"x":4.5,"y":2.35,"g":"4p"},{"x":4.55,"y":1.35,"g":"4p"},{"x":4.55,"y":2.0,"g":"4p"},{"x":4.6,"y":1.75,"g":"4p"},{"x":4.6,"y":1.5,"g":"4p"},{"x":4.65,"y":2.1,"g":"4p"},
{"x":4.65,"y":1.3,"g":"4p"},{"x":4.7,"y":1.85,"g":"4p"},{"x":4.7,"y":1.55,"g":"4p"},{"x":4.75,"y":1.2,"g":"4p"},{"x":4.75,"y":2.0,"g":"4p"},{"x":4.8,"y":1.65,"g":"4p"},{"x":4.8,"y":1.4,"g":"4p"},{"x":4.85,"y":1.1,"g":"4p"},{"x":4.85,"y":1.8,"g":"4p"},{"x":4.9,"y":1.5,"g":"4p"},
{"x":4.9,"y":1.25,"g":"4p"},{"x":4.95,"y":1.6,"g":"4p"},{"x":4.5,"y":1.15,"g":"4p"},{"x":4.3,"y":1.3,"g":"4p"},{"x":4.6,"y":2.2,"g":"4p"},{"x":4.0,"y":2.7,"g":"4p"},{"x":3.85,"y":2.85,"g":"4p"},{"x":4.2,"y":2.75,"g":"4p"},{"x":4.4,"y":2.55,"g":"4p"},{"x":4.75,"y":1.0,"g":"4p"},
{"x":4.95,"y":1.05,"g":"4p"},{"x":4.1,"y":1.6,"g":"4p"},{"x":3.75,"y":1.85,"g":"4p"},{"x":4.85,"y":2.05,"g":"4p"},
{"x":1.79,"y":10.15,"g":"8p"},{"x":2.63,"y":8.59,"g":"8p"},{"x":3.28,"y":8.01,"g":"8p"},{"x":3.72,"y":6.78,"g":"8p"},{"x":4.07,"y":6.66,"g":"8p"},{"x":4.35,"y":6.15,"g":"8p"},{"x":4.52,"y":5.69,"g":"8p"},{"x":4.82,"y":5.34,"g":"8p"},{"x":5.0,"y":5.39,"g":"8p"},{"x":5.16,"y":4.88,"g":"8p"},
{"x":5.26,"y":4.75,"g":"8p"},{"x":5.38,"y":4.82,"g":"8p"},{"x":5.48,"y":4.64,"g":"8p"},{"x":5.6,"y":4.35,"g":"8p"},{"x":5.66,"y":4.18,"g":"8p"},{"x":5.75,"y":4.4,"g":"8p"},{"x":5.85,"y":4.05,"g":"8p"},{"x":5.92,"y":4.3,"g":"8p"},{"x":5.99,"y":4.25,"g":"8p"},{"x":5.95,"y":3.9,"g":"8p"},
{"x":6.0,"y":3.6,"g":"8p"},{"x":6.05,"y":3.4,"g":"8p"},{"x":6.1,"y":3.9,"g":"8p"},{"x":6.15,"y":3.55,"g":"8p"},{"x":6.2,"y":3.3,"g":"8p"},{"x":6.2,"y":3.7,"g":"8p"},{"x":6.25,"y":3.5,"g":"8p"},{"x":6.3,"y":3.2,"g":"8p"},{"x":6.3,"y":3.8,"g":"8p"},{"x":6.35,"y":3.45,"g":"8p"},
{"x":6.4,"y":3.1,"g":"8p"},{"x":6.4,"y":3.6,"g":"8p"},{"x":6.45,"y":3.35,"g":"8p"},{"x":6.5,"y":3.0,"g":"8p"},{"x":6.5,"y":3.5,"g":"8p"},{"x":6.55,"y":3.25,"g":"8p"},{"x":6.55,"y":2.9,"g":"8p"},{"x":6.6,"y":3.4,"g":"8p"},{"x":6.6,"y":3.1,"g":"8p"},{"x":6.65,"y":2.8,"g":"8p"},
{"x":6.65,"y":3.3,"g":"8p"},{"x":6.7,"y":3.0,"g":"8p"},{"x":6.7,"y":2.65,"g":"8p"},{"x":6.75,"y":3.2,"g":"8p"},{"x":6.75,"y":2.9,"g":"8p"},{"x":6.8,"y":2.7,"g":"8p"},{"x":6.8,"y":3.1,"g":"8p"},{"x":6.85,"y":2.5,"g":"8p"},{"x":6.85,"y":2.95,"g":"8p"},{"x":6.9,"y":2.75,"g":"8p"},
{"x":6.9,"y":3.15,"g":"8p"},{"x":6.95,"y":2.6,"g":"8p"},{"x":6.95,"y":2.35,"g":"8p"},{"x":7.0,"y":2.85,"g":"8p"},{"x":7.0,"y":2.5,"g":"8p"},{"x":7.05,"y":2.7,"g":"8p"},{"x":7.05,"y":2.2,"g":"8p"},{"x":7.1,"y":2.55,"g":"8p"},{"x":7.1,"y":2.95,"g":"8p"},{"x":7.15,"y":2.4,"g":"8p"},
{"x":7.15,"y":2.75,"g":"8p"},{"x":7.2,"y":2.25,"g":"8p"},{"x":7.2,"y":2.6,"g":"8p"},{"x":7.25,"y":2.45,"g":"8p"},{"x":7.25,"y":2.05,"g":"8p"},{"x":7.3,"y":2.35,"g":"8p"},{"x":7.3,"y":2.7,"g":"8p"},{"x":7.35,"y":2.2,"g":"8p"},{"x":7.35,"y":2.5,"g":"8p"},{"x":7.4,"y":2.1,"g":"8p"},
{"x":7.4,"y":2.4,"g":"8p"},{"x":7.45,"y":2.25,"g":"8p"},{"x":7.45,"y":1.95,"g":"8p"},{"x":7.5,"y":2.3,"g":"8p"},{"x":7.5,"y":2.1,"g":"8p"},{"x":7.55,"y":2.0,"g":"8p"},{"x":7.55,"y":1.85,"g":"8p"},{"x":7.6,"y":2.1,"g":"8p"},{"x":7.6,"y":1.9,"g":"8p"},{"x":6.35,"y":3.0,"g":"8p"},
{"x":6.6,"y":2.6,"g":"8p"},{"x":6.9,"y":2.3,"g":"8p"},{"x":7.2,"y":2.9,"g":"8p"},{"x":6.45,"y":3.75,"g":"8p"},{"x":6.75,"y":2.45,"g":"8p"},{"x":7.0,"y":2.2,"g":"8p"},{"x":7.3,"y":1.95,"g":"8p"},{"x":6.25,"y":3.05,"g":"8p"},{"x":6.55,"y":3.6,"g":"8p"},{"x":7.45,"y":2.55,"g":"8p"}
],
"il": [
{"x":0.94,"y":2.16,"g":"2l"},{"x":2.43,"y":0.19,"g":"2l"},
{"x":1.14,"y":6.04,"g":"4e"},{"x":2.45,"y":4.13,"g":"4e"},
{"x":1.94,"y":4.18,"g":"4l"},{"x":4.94,"y":0.98,"g":"4l"},
{"x":1.79,"y":10.15,"g":"8l"},{"x":4.82,"y":5.34,"g":"8l"}
]
},
"concat": [
{
 "width": 336, "height": 201,
 "title": {"text": ["Case A", "Temperature dependent", "feedback"], "offset": 14.3},
 "layer": [
  {"data": {"name": "a"}, "mark": {"type": "line", "strokeWidth": 3, "clip": true},
   "encoding": {
    "x": {"field": "x", "type": "quantitative", "scale": {"domain": [0, 40], "nice": false, "zero": false}, "axis": {"orient": "bottom", "values": [0,10,20,30,40], "tickSize": 7, "labelPadding": 15, "title": "Time steps of illustrative model", "titlePadding": 6, "minExtent": 0}},
    "y": {"field": "y", "type": "quantitative", "scale": {"domain": [0, 8], "nice": false, "zero": false}, "axis": {"orient": "left", "values": [0,2,4,6,8], "tickSize": 7, "labelPadding": 14, "title": "Temperature anomaly (K)", "titlePadding": 2, "minExtent": 44}},
    "color": {"field": "s", "type": "nominal", "scale": {"domain": ["2x","4x","8x"], "range": ["#a0a0a0","#ff0000","#12b0f0"]}, "legend": null}}},
  {"data": {"values": []}, "mark": "point", "encoding": {
    "x": {"field": "x", "type": "quantitative", "scale": {"domain": [0, 40], "nice": false, "zero": false}, "axis": {"orient": "top", "values": [0,10,20,30,40], "tickSize": 7, "labels": false, "title": null, "minExtent": 0}},
    "y": {"field": "y", "type": "quantitative", "scale": {"domain": [0, 8], "nice": false, "zero": false}, "axis": {"orient": "right", "values": [0,2,4,6,8], "tickSize": 7, "labels": false, "title": null, "minExtent": 0}}}},
  {"data": {"values": []}, "mark": "point", "encoding": {
    "x": {"field": "x", "type": "quantitative", "scale": {"domain": [0, 40], "nice": false, "zero": false}, "axis": {"orient": "bottom", "values": [2,4,6,8,12,14,16,18,22,24,26,28,32,34,36,38], "tickSize": 4, "labels": false, "domain": false, "title": null, "minExtent": 0}},
    "y": {"field": "y", "type": "quantitative", "scale": {"domain": [0, 8], "nice": false, "zero": false}, "axis": {"orient": "left", "values": [0.5,1,1.5,2.5,3,3.5,4.5,5,5.5,6.5,7,7.5], "tickSize": 4, "labels": false, "domain": false, "title": null, "minExtent": 0}}}},
  {"data": {"values": []}, "mark": "point", "encoding": {
    "x": {"field": "x", "type": "quantitative", "scale": {"domain": [0, 40], "nice": false, "zero": false}, "axis": {"orient": "top", "values": [2,4,6,8,12,14,16,18,22,24,26,28,32,34,36,38], "tickSize": 4, "labels": false, "domain": false, "title": null, "minExtent": 0}},
    "y": {"field": "y", "type": "quantitative", "scale": {"domain": [0, 8], "nice": false, "zero": false}, "axis": {"orient": "right", "values": [0.5,1,1.5,2.5,3,3.5,4.5,5,5.5,6.5,7,7.5], "tickSize": 4, "labels": false, "domain": false, "title": null, "minExtent": 0}}}},
  {"data": {"values": [{"lab": "a)"}]}, "mark": {"type": "text", "align": "right", "baseline": "alphabetic", "fontSize": 26, "font": "Liberation Sans", "color": "#000000"},
   "encoding": {
    "x": {"datum": 38.1, "type": "quantitative", "scale": {"domain": [0, 40], "nice": false, "zero": false}, "axis": null},
    "y": {"datum": 6.5, "type": "quantitative", "scale": {"domain": [0, 8], "nice": false, "zero": false}, "axis": null},
    "text": {"field": "lab"}}}
 ],
 "resolve": {"axis": {"x": "independent", "y": "independent"}}
},
{
 "width": 336, "height": 201,
 "title": {"text": ["Case B", "Time dependent", "adjustment"], "offset": 25.3},
 "layer": [
  {"data": {"name": "b"}, "mark": {"type": "line", "strokeWidth": 3, "clip": true},
   "encoding": {
    "x": {"field": "x", "type": "quantitative", "scale": {"domain": [0, 40], "nice": false, "zero": false}, "axis": {"orient": "bottom", "values": [0,10,20,30,40], "tickSize": 7, "labelPadding": 15, "title": "Time steps of illustrative model", "titlePadding": 6, "minExtent": 0}},
    "y": {"field": "y", "type": "quantitative", "scale": {"domain": [0, 8], "nice": false, "zero": false}, "axis": {"orient": "left", "values": [0,2,4,6,8], "tickSize": 7, "labels": false, "title": null, "minExtent": 25}},
    "color": {"field": "s", "type": "nominal", "scale": {"domain": ["2x","4x","8x"], "range": ["#a0a0a0","#ff0000","#12b0f0"]}, "legend": null}}},
  {"data": {"values": []}, "mark": "point", "encoding": {
    "x": {"field": "x", "type": "quantitative", "scale": {"domain": [0, 40], "nice": false, "zero": false}, "axis": {"orient": "top", "values": [0,10,20,30,40], "tickSize": 7, "labels": false, "title": null, "minExtent": 0}},
    "y": {"field": "y", "type": "quantitative", "scale": {"domain": [0, 8], "nice": false, "zero": false}, "axis": {"orient": "right", "values": [0,2,4,6,8], "tickSize": 7, "labels": false, "title": null, "minExtent": 0}}}},
  {"data": {"values": []}, "mark": "point", "encoding": {
    "x": {"field": "x", "type": "quantitative", "scale": {"domain": [0, 40], "nice": false, "zero": false}, "axis": {"orient": "bottom", "values": [2,4,6,8,12,14,16,18,22,24,26,28,32,34,36,38], "tickSize": 4, "labels": false, "domain": false, "title": null, "minExtent": 0}},
    "y": {"field": "y", "type": "quantitative", "scale": {"domain": [0, 8], "nice": false, "zero": false}, "axis": {"orient": "left", "values": [0.5,1,1.5,2.5,3,3.5,4.5,5,5.5,6.5,7,7.5], "tickSize": 4, "labels": false, "domain": false, "title": null, "minExtent": 0}}}},
  {"data": {"values": []}, "mark": "point", "encoding": {
    "x": {"field": "x", "type": "quantitative", "scale": {"domain": [0, 40], "nice": false, "zero": false}, "axis": {"orient": "top", "values": [2,4,6,8,12,14,16,18,22,24,26,28,32,34,36,38], "tickSize": 4, "labels": false, "domain": false, "title": null, "minExtent": 0}},
    "y": {"field": "y", "type": "quantitative", "scale": {"domain": [0, 8], "nice": false, "zero": false}, "axis": {"orient": "right", "values": [0.5,1,1.5,2.5,3,3.5,4.5,5,5.5,6.5,7,7.5], "tickSize": 4, "labels": false, "domain": false, "title": null, "minExtent": 0}}}},
  {"data": {"values": [{"lab": "b)"}]}, "mark": {"type": "text", "align": "right", "baseline": "alphabetic", "fontSize": 26, "font": "Liberation Sans", "color": "#000000"},
   "encoding": {
    "x": {"datum": 38.1, "type": "quantitative", "scale": {"domain": [0, 40], "nice": false, "zero": false}, "axis": null},
    "y": {"datum": 6.5, "type": "quantitative", "scale": {"domain": [0, 8], "nice": false, "zero": false}, "axis": null},
    "text": {"field": "lab"}}}
 ],
 "resolve": {"axis": {"x": "independent", "y": "independent"}}
},
{
 "width": 336, "height": 201,
 "title": {"text": ["Global climate", "model output"], "offset": 42.3},
 "layer": [
  {"data": {"name": "c"}, "transform": [{"filter": "datum.k == 'a'"}], "mark": {"type": "line", "strokeWidth": 1.1, "clip": true},
   "encoding": {
    "x": {"field": "x", "type": "quantitative", "scale": {"domain": [0, 100], "nice": false, "zero": false}, "axis": {"orient": "bottom", "values": [0,20,40,60,80,100], "tickSize": 7, "labelPadding": 15, "labelFontSize": 21.5, "title": "Years after instantaneous forcing", "titlePadding": 4.5, "minExtent": 0}},
    "y": {"field": "y", "type": "quantitative", "scale": {"domain": [0, 8], "nice": false, "zero": false}, "axis": {"orient": "left", "values": [0,2,4,6,8], "tickSize": 7, "labels": false, "title": null, "minExtent": 31}},
    "color": {"field": "s", "type": "nominal", "scale": {"domain": ["2x","4x","8x"], "range": ["#a0a0a0","#ff0000","#12b0f0"]}, "legend": null}}},
  {"data": {"name": "c"}, "transform": [{"filter": "datum.k == 'm'"}], "mark": {"type": "line", "strokeWidth": 3.5, "clip": true},
   "encoding": {
    "x": {"field": "x", "type": "quantitative", "scale": {"domain": [0, 100], "nice": false, "zero": false}, "axis": null},
    "y": {"field": "y", "type": "quantitative", "scale": {"domain": [0, 8], "nice": false, "zero": false}, "axis": null},
    "color": {"field": "s", "type": "nominal", "scale": {"domain": ["2x","4x","8x"], "range": ["#a0a0a0","#ff0000","#12b0f0"]}, "legend": null}}},
  {"data": {"values": []}, "mark": "point", "encoding": {
    "x": {"field": "x", "type": "quantitative", "scale": {"domain": [0, 100], "nice": false, "zero": false}, "axis": {"orient": "top", "values": [0,20,40,60,80,100], "tickSize": 7, "labels": false, "title": null, "minExtent": 0}},
    "y": {"field": "y", "type": "quantitative", "scale": {"domain": [0, 8], "nice": false, "zero": false}, "axis": {"orient": "right", "values": [0,2,4,6,8], "tickSize": 7, "labels": false, "title": null, "minExtent": 0}}}},
  {"data": {"values": []}, "mark": "point", "encoding": {
    "x": {"field": "x", "type": "quantitative", "scale": {"domain": [0, 100], "nice": false, "zero": false}, "axis": {"orient": "bottom", "values": [5,10,15,25,30,35,45,50,55,65,70,75,85,90,95], "tickSize": 4, "labels": false, "domain": false, "title": null, "minExtent": 0}},
    "y": {"field": "y", "type": "quantitative", "scale": {"domain": [0, 8], "nice": false, "zero": false}, "axis": {"orient": "left", "values": [0.5,1,1.5,2.5,3,3.5,4.5,5,5.5,6.5,7,7.5], "tickSize": 4, "labels": false, "domain": false, "title": null, "minExtent": 0}}}},
  {"data": {"values": []}, "mark": "point", "encoding": {
    "x": {"field": "x", "type": "quantitative", "scale": {"domain": [0, 100], "nice": false, "zero": false}, "axis": {"orient": "top", "values": [5,10,15,25,30,35,45,50,55,65,70,75,85,90,95], "tickSize": 4, "labels": false, "domain": false, "title": null, "minExtent": 0}},
    "y": {"field": "y", "type": "quantitative", "scale": {"domain": [0, 8], "nice": false, "zero": false}, "axis": {"orient": "right", "values": [0.5,1,1.5,2.5,3,3.5,4.5,5,5.5,6.5,7,7.5], "tickSize": 4, "labels": false, "domain": false, "title": null, "minExtent": 0}}}},
  {"data": {"values": [{"lab": "c)"}]}, "mark": {"type": "text", "align": "right", "baseline": "alphabetic", "fontSize": 26, "font": "Liberation Sans", "color": "#000000"},
   "encoding": {
    "x": {"datum": 95.2, "type": "quantitative", "scale": {"domain": [0, 100], "nice": false, "zero": false}, "axis": null},
    "y": {"datum": 6.5, "type": "quantitative", "scale": {"domain": [0, 8], "nice": false, "zero": false}, "axis": null},
    "text": {"field": "lab"}}}
 ],
 "resolve": {"axis": {"x": "independent", "y": "independent"}}
},
{
 "width": 336, "height": 201,
 "layer": [
  {"data": {"name": "d"}, "mark": {"type": "line", "strokeWidth": 3, "clip": true},
   "encoding": {
    "x": {"field": "x", "type": "quantitative", "scale": {"domain": [0, 40], "nice": false, "zero": false}, "axis": {"orient": "bottom", "values": [0,10,20,30,40], "tickSize": 7, "labelPadding": 15, "title": "Time steps of illustrative model", "titlePadding": 6, "minExtent": 0}},
    "y": {"field": "y", "type": "quantitative", "scale": {"domain": [0, 8], "nice": false, "zero": false}, "axis": {"orient": "left", "values": [0,2,4,6,8], "tickSize": 7, "labelPadding": 14, "title": "TOA radiative flux (W/m²)", "titlePadding": 2, "minExtent": 44}},
    "color": {"field": "s", "type": "nominal", "scale": {"domain": ["2x","4x","8x"], "range": ["#a0a0a0","#ff0000","#12b0f0"]}, "legend": null}}},
  {"data": {"values": []}, "mark": "point", "encoding": {
    "x": {"field": "x", "type": "quantitative", "scale": {"domain": [0, 40], "nice": false, "zero": false}, "axis": {"orient": "top", "values": [0,10,20,30,40], "tickSize": 7, "labels": false, "title": null, "minExtent": 0}},
    "y": {"field": "y", "type": "quantitative", "scale": {"domain": [0, 8], "nice": false, "zero": false}, "axis": {"orient": "right", "values": [0,2,4,6,8], "tickSize": 7, "labels": false, "title": null, "minExtent": 0}}}},
  {"data": {"values": []}, "mark": "point", "encoding": {
    "x": {"field": "x", "type": "quantitative", "scale": {"domain": [0, 40], "nice": false, "zero": false}, "axis": {"orient": "bottom", "values": [2,4,6,8,12,14,16,18,22,24,26,28,32,34,36,38], "tickSize": 4, "labels": false, "domain": false, "title": null, "minExtent": 0}},
    "y": {"field": "y", "type": "quantitative", "scale": {"domain": [0, 8], "nice": false, "zero": false}, "axis": {"orient": "left", "values": [0.5,1,1.5,2.5,3,3.5,4.5,5,5.5,6.5,7,7.5], "tickSize": 4, "labels": false, "domain": false, "title": null, "minExtent": 0}}}},
  {"data": {"values": []}, "mark": "point", "encoding": {
    "x": {"field": "x", "type": "quantitative", "scale": {"domain": [0, 40], "nice": false, "zero": false}, "axis": {"orient": "top", "values": [2,4,6,8,12,14,16,18,22,24,26,28,32,34,36,38], "tickSize": 4, "labels": false, "domain": false, "title": null, "minExtent": 0}},
    "y": {"field": "y", "type": "quantitative", "scale": {"domain": [0, 8], "nice": false, "zero": false}, "axis": {"orient": "right", "values": [0.5,1,1.5,2.5,3,3.5,4.5,5,5.5,6.5,7,7.5], "tickSize": 4, "labels": false, "domain": false, "title": null, "minExtent": 0}}}},
  {"data": {"values": [{"lab": "d)"}]}, "mark": {"type": "text", "align": "right", "baseline": "alphabetic", "fontSize": 26, "font": "Liberation Sans", "color": "#000000"},
   "encoding": {
    "x": {"datum": 38.1, "type": "quantitative", "scale": {"domain": [0, 40], "nice": false, "zero": false}, "axis": null},
    "y": {"datum": 6.5, "type": "quantitative", "scale": {"domain": [0, 8], "nice": false, "zero": false}, "axis": null},
    "text": {"field": "lab"}}}
 ],
 "resolve": {"axis": {"x": "independent", "y": "independent"}}
},
{
 "width": 336, "height": 201,
 "layer": [
  {"data": {"name": "e"}, "mark": {"type": "line", "strokeWidth": 3, "clip": true},
   "encoding": {
    "x": {"field": "x", "type": "quantitative", "scale": {"domain": [0, 40], "nice": false, "zero": false}, "axis": {"orient": "bottom", "values": [0,10,20,30,40], "tickSize": 7, "labelPadding": 15, "title": "Time steps of illustrative model", "titlePadding": 6, "minExtent": 0}},
    "y": {"field": "y", "type": "quantitative", "scale": {"domain": [0, 8], "nice": false, "zero": false}, "axis": {"orient": "left", "values": [0,2,4,6,8], "tickSize": 7, "labels": false, "title": null, "minExtent": 25}},
    "color": {"field": "s", "type": "nominal", "scale": {"domain": ["2x","4x","8x"], "range": ["#a0a0a0","#ff0000","#12b0f0"]},
      "legend": {"orient": "none", "legendX": 107, "legendY": 45, "title": null, "symbolType": "stroke", "symbolSize": 900, "symbolStrokeWidth": 4.5, "labelFontSize": 18, "labelFont": "Liberation Sans", "labelColor": "#000000", "labelOffset": 10, "rowPadding": 3, "padding": 0,
        "labelExpr": "datum.label == '2x' ? '2xCO₂ scaled up' : datum.label == '4x' ? '4xCO₂ unscaled' : '8xCO₂ scaled down'"}}}},
  {"data": {"values": []}, "mark": "point", "encoding": {
    "x": {"field": "x", "type": "quantitative", "scale": {"domain": [0, 40], "nice": false, "zero": false}, "axis": {"orient": "top", "values": [0,10,20,30,40], "tickSize": 7, "labels": false, "title": null, "minExtent": 0}},
    "y": {"field": "y", "type": "quantitative", "scale": {"domain": [0, 8], "nice": false, "zero": false}, "axis": {"orient": "right", "values": [0,2,4,6,8], "tickSize": 7, "labels": false, "title": null, "minExtent": 0}}}},
  {"data": {"values": []}, "mark": "point", "encoding": {
    "x": {"field": "x", "type": "quantitative", "scale": {"domain": [0, 40], "nice": false, "zero": false}, "axis": {"orient": "bottom", "values": [2,4,6,8,12,14,16,18,22,24,26,28,32,34,36,38], "tickSize": 4, "labels": false, "domain": false, "title": null, "minExtent": 0}},
    "y": {"field": "y", "type": "quantitative", "scale": {"domain": [0, 8], "nice": false, "zero": false}, "axis": {"orient": "left", "values": [0.5,1,1.5,2.5,3,3.5,4.5,5,5.5,6.5,7,7.5], "tickSize": 4, "labels": false, "domain": false, "title": null, "minExtent": 0}}}},
  {"data": {"values": []}, "mark": "point", "encoding": {
    "x": {"field": "x", "type": "quantitative", "scale": {"domain": [0, 40], "nice": false, "zero": false}, "axis": {"orient": "top", "values": [2,4,6,8,12,14,16,18,22,24,26,28,32,34,36,38], "tickSize": 4, "labels": false, "domain": false, "title": null, "minExtent": 0}},
    "y": {"field": "y", "type": "quantitative", "scale": {"domain": [0, 8], "nice": false, "zero": false}, "axis": {"orient": "right", "values": [0.5,1,1.5,2.5,3,3.5,4.5,5,5.5,6.5,7,7.5], "tickSize": 4, "labels": false, "domain": false, "title": null, "minExtent": 0}}}},
  {"data": {"values": [{"lab": "e)"}]}, "mark": {"type": "text", "align": "right", "baseline": "alphabetic", "fontSize": 26, "font": "Liberation Sans", "color": "#000000"},
   "encoding": {
    "x": {"datum": 38.1, "type": "quantitative", "scale": {"domain": [0, 40], "nice": false, "zero": false}, "axis": null},
    "y": {"datum": 6.5, "type": "quantitative", "scale": {"domain": [0, 8], "nice": false, "zero": false}, "axis": null},
    "text": {"field": "lab"}}}
 ],
 "resolve": {"axis": {"x": "independent", "y": "independent"}}
},
{
 "width": 336, "height": 201,
 "layer": [
  {"data": {"name": "f"}, "transform": [{"filter": "datum.k == 'a'"}], "mark": {"type": "line", "strokeWidth": 1.1, "clip": true},
   "encoding": {
    "x": {"field": "x", "type": "quantitative", "scale": {"domain": [0, 100], "nice": false, "zero": false}, "axis": {"orient": "bottom", "values": [0,20,40,60,80,100], "tickSize": 7, "labelPadding": 15, "labelFontSize": 21.5, "title": "Years after instantaneous forcing", "titlePadding": 4.5, "minExtent": 0}},
    "y": {"field": "y", "type": "quantitative", "scale": {"domain": [0, 8], "nice": false, "zero": false}, "axis": {"orient": "left", "values": [0,2,4,6,8], "tickSize": 7, "labels": false, "title": null, "minExtent": 31}},
    "color": {"field": "s", "type": "nominal", "scale": {"domain": ["2x","4x","8x"], "range": ["#a0a0a0","#ff0000","#12b0f0"]}, "legend": null}}},
  {"data": {"name": "f"}, "transform": [{"filter": "datum.k == 'm'"}], "mark": {"type": "line", "strokeWidth": 3.5, "clip": true},
   "encoding": {
    "x": {"field": "x", "type": "quantitative", "scale": {"domain": [0, 100], "nice": false, "zero": false}, "axis": null},
    "y": {"field": "y", "type": "quantitative", "scale": {"domain": [0, 8], "nice": false, "zero": false}, "axis": null},
    "color": {"field": "s", "type": "nominal", "scale": {"domain": ["2x","4x","8x"], "range": ["#a0a0a0","#ff0000","#12b0f0"]}, "legend": null}}},
  {"data": {"values": []}, "mark": "point", "encoding": {
    "x": {"field": "x", "type": "quantitative", "scale": {"domain": [0, 100], "nice": false, "zero": false}, "axis": {"orient": "top", "values": [0,20,40,60,80,100], "tickSize": 7, "labels": false, "title": null, "minExtent": 0}},
    "y": {"field": "y", "type": "quantitative", "scale": {"domain": [0, 8], "nice": false, "zero": false}, "axis": {"orient": "right", "values": [0,2,4,6,8], "tickSize": 7, "labels": false, "title": null, "minExtent": 0}}}},
  {"data": {"values": []}, "mark": "point", "encoding": {
    "x": {"field": "x", "type": "quantitative", "scale": {"domain": [0, 100], "nice": false, "zero": false}, "axis": {"orient": "bottom", "values": [5,10,15,25,30,35,45,50,55,65,70,75,85,90,95], "tickSize": 4, "labels": false, "domain": false, "title": null, "minExtent": 0}},
    "y": {"field": "y", "type": "quantitative", "scale": {"domain": [0, 8], "nice": false, "zero": false}, "axis": {"orient": "left", "values": [0.5,1,1.5,2.5,3,3.5,4.5,5,5.5,6.5,7,7.5], "tickSize": 4, "labels": false, "domain": false, "title": null, "minExtent": 0}}}},
  {"data": {"values": []}, "mark": "point", "encoding": {
    "x": {"field": "x", "type": "quantitative", "scale": {"domain": [0, 100], "nice": false, "zero": false}, "axis": {"orient": "top", "values": [5,10,15,25,30,35,45,50,55,65,70,75,85,90,95], "tickSize": 4, "labels": false, "domain": false, "title": null, "minExtent": 0}},
    "y": {"field": "y", "type": "quantitative", "scale": {"domain": [0, 8], "nice": false, "zero": false}, "axis": {"orient": "right", "values": [0.5,1,1.5,2.5,3,3.5,4.5,5,5.5,6.5,7,7.5], "tickSize": 4, "labels": false, "domain": false, "title": null, "minExtent": 0}}}},
  {"data": {"values": [{"lab": "f)"}]}, "mark": {"type": "text", "align": "right", "baseline": "alphabetic", "fontSize": 26, "font": "Liberation Sans", "color": "#000000"},
   "encoding": {
    "x": {"datum": 95.2, "type": "quantitative", "scale": {"domain": [0, 100], "nice": false, "zero": false}, "axis": null},
    "y": {"datum": 6.5, "type": "quantitative", "scale": {"domain": [0, 8], "nice": false, "zero": false}, "axis": null},
    "text": {"field": "lab"}}}
 ],
 "resolve": {"axis": {"x": "independent", "y": "independent"}}
},
{
 "width": 336, "height": 201,
 "layer": [
  {"data": {"name": "g"}, "mark": {"type": "line", "strokeWidth": 4.5, "clip": true},
   "encoding": {
    "x": {"field": "x", "type": "quantitative", "scale": {"domain": [0, 10], "nice": false, "zero": false}, "axis": {"orient": "bottom", "values": [0,2,4,6,8,10], "tickSize": 7, "labelPadding": 15, "title": "Surface temperature anomaly (K)", "titlePadding": 6, "minExtent": 0}},
    "y": {"field": "y", "type": "quantitative", "scale": {"domain": [0, 14], "nice": false, "zero": false}, "axis": {"orient": "left", "values": [0,2,4,6,8,10,12,14], "tickSize": 7, "labelPadding": 14, "title": "TOA radiative flux (W/m²)", "titlePadding": 2, "minExtent": 44}},
    "color": {"field": "s", "type": "nominal", "scale": {"domain": ["2x","4x","8x"], "range": ["#a0a0a0","#ff0000","#12b0f0"]}, "legend": null}}},
  {"data": {"values": []}, "mark": "point", "encoding": {
    "x": {"field": "x", "type": "quantitative", "scale": {"domain": [0, 10], "nice": false, "zero": false}, "axis": {"orient": "top", "values": [0,2,4,6,8,10], "tickSize": 7, "labels": false, "title": null, "minExtent": 31}},
    "y": {"field": "y", "type": "quantitative", "scale": {"domain": [0, 14], "nice": false, "zero": false}, "axis": {"orient": "right", "values": [0,2,4,6,8,10,12,14], "tickSize": 7, "labels": false, "title": null, "minExtent": 0}}}},
  {"data": {"values": []}, "mark": "point", "encoding": {
    "x": {"field": "x", "type": "quantitative", "scale": {"domain": [0, 10], "nice": false, "zero": false}, "axis": {"orient": "bottom", "values": [0.5,1,1.5,2.5,3,3.5,4.5,5,5.5,6.5,7,7.5,8.5,9,9.5], "tickSize": 4, "labels": false, "domain": false, "title": null, "minExtent": 0}},
    "y": {"field": "y", "type": "quantitative", "scale": {"domain": [0, 14], "nice": false, "zero": false}, "axis": {"orient": "left", "values": [0.5,1,1.5,2.5,3,3.5,4.5,5,5.5,6.5,7,7.5,8.5,9,9.5,10.5,11,11.5,12.5,13,13.5], "tickSize": 4, "labels": false, "domain": false, "title": null, "minExtent": 0}}}},
  {"data": {"values": []}, "mark": "point", "encoding": {
    "x": {"field": "x", "type": "quantitative", "scale": {"domain": [0, 10], "nice": false, "zero": false}, "axis": {"orient": "top", "values": [0.5,1,1.5,2.5,3,3.5,4.5,5,5.5,6.5,7,7.5,8.5,9,9.5], "tickSize": 4, "labels": false, "domain": false, "title": null, "minExtent": 0}},
    "y": {"field": "y", "type": "quantitative", "scale": {"domain": [0, 14], "nice": false, "zero": false}, "axis": {"orient": "right", "values": [0.5,1,1.5,2.5,3,3.5,4.5,5,5.5,6.5,7,7.5,8.5,9,9.5,10.5,11,11.5,12.5,13,13.5], "tickSize": 4, "labels": false, "domain": false, "title": null, "minExtent": 0}}}},
  {"data": {"values": [{"lab": "g)"}]}, "mark": {"type": "text", "align": "right", "baseline": "alphabetic", "fontSize": 26, "font": "Liberation Sans", "color": "#000000"},
   "encoding": {
    "x": {"datum": 9.52, "type": "quantitative", "scale": {"domain": [0, 10], "nice": false, "zero": false}, "axis": null},
    "y": {"datum": 11.37, "type": "quantitative", "scale": {"domain": [0, 14], "nice": false, "zero": false}, "axis": null},
    "text": {"field": "lab"}}}
 ],
 "resolve": {"axis": {"x": "independent", "y": "independent"}}
},
{
 "width": 336, "height": 201,
 "layer": [
  {"data": {"name": "h"}, "mark": {"type": "line", "strokeWidth": 4.5, "clip": true},
   "encoding": {
    "x": {"field": "x", "type": "quantitative", "scale": {"domain": [0, 10], "nice": false, "zero": false}, "axis": {"orient": "bottom", "values": [0,2,4,6,8,10], "tickSize": 7, "labelPadding": 15, "title": "Surface temperature anomaly (K)", "titlePadding": 6, "minExtent": 0}},
    "y": {"field": "y", "type": "quantitative", "scale": {"domain": [0, 14], "nice": false, "zero": false}, "axis": {"orient": "left", "values": [0,2,4,6,8,10,12,14], "tickSize": 7, "labels": false, "title": null, "minExtent": 25}},
    "color": {"field": "s", "type": "nominal", "scale": {"domain": ["2x","4x","8x"], "range": ["#a0a0a0","#ff0000","#12b0f0"]}, "legend": null}}},
  {"data": {"values": []}, "mark": "point", "encoding": {
    "x": {"field": "x", "type": "quantitative", "scale": {"domain": [0, 10], "nice": false, "zero": false}, "axis": {"orient": "top", "values": [0,2,4,6,8,10], "tickSize": 7, "labels": false, "title": null, "minExtent": 31}},
    "y": {"field": "y", "type": "quantitative", "scale": {"domain": [0, 14], "nice": false, "zero": false}, "axis": {"orient": "right", "values": [0,2,4,6,8,10,12,14], "tickSize": 7, "labels": false, "title": null, "minExtent": 0}}}},
  {"data": {"values": []}, "mark": "point", "encoding": {
    "x": {"field": "x", "type": "quantitative", "scale": {"domain": [0, 10], "nice": false, "zero": false}, "axis": {"orient": "bottom", "values": [0.5,1,1.5,2.5,3,3.5,4.5,5,5.5,6.5,7,7.5,8.5,9,9.5], "tickSize": 4, "labels": false, "domain": false, "title": null, "minExtent": 0}},
    "y": {"field": "y", "type": "quantitative", "scale": {"domain": [0, 14], "nice": false, "zero": false}, "axis": {"orient": "left", "values": [0.5,1,1.5,2.5,3,3.5,4.5,5,5.5,6.5,7,7.5,8.5,9,9.5,10.5,11,11.5,12.5,13,13.5], "tickSize": 4, "labels": false, "domain": false, "title": null, "minExtent": 0}}}},
  {"data": {"values": []}, "mark": "point", "encoding": {
    "x": {"field": "x", "type": "quantitative", "scale": {"domain": [0, 10], "nice": false, "zero": false}, "axis": {"orient": "top", "values": [0.5,1,1.5,2.5,3,3.5,4.5,5,5.5,6.5,7,7.5,8.5,9,9.5], "tickSize": 4, "labels": false, "domain": false, "title": null, "minExtent": 0}},
    "y": {"field": "y", "type": "quantitative", "scale": {"domain": [0, 14], "nice": false, "zero": false}, "axis": {"orient": "right", "values": [0.5,1,1.5,2.5,3,3.5,4.5,5,5.5,6.5,7,7.5,8.5,9,9.5,10.5,11,11.5,12.5,13,13.5], "tickSize": 4, "labels": false, "domain": false, "title": null, "minExtent": 0}}}},
  {"data": {"values": [{"lab": "h)"}]}, "mark": {"type": "text", "align": "right", "baseline": "alphabetic", "fontSize": 26, "font": "Liberation Sans", "color": "#000000"},
   "encoding": {
    "x": {"datum": 9.52, "type": "quantitative", "scale": {"domain": [0, 10], "nice": false, "zero": false}, "axis": null},
    "y": {"datum": 11.37, "type": "quantitative", "scale": {"domain": [0, 14], "nice": false, "zero": false}, "axis": null},
    "text": {"field": "lab"}}}
 ],
 "resolve": {"axis": {"x": "independent", "y": "independent"}}
},
{
 "width": 336, "height": 201,
 "layer": [
  {"data": {"name": "ip"}, "mark": {"type": "circle", "size": 32, "opacity": 1, "clip": true},
   "encoding": {
    "x": {"field": "x", "type": "quantitative", "scale": {"domain": [0, 10], "nice": false, "zero": false}, "axis": {"orient": "bottom", "values": [0,2,4,6,8,10], "tickSize": 7, "labelPadding": 15, "labelFontSize": 21.5, "title": "Surface temperature anomaly (K)", "titlePadding": 4.5, "minExtent": 0}},
    "y": {"field": "y", "type": "quantitative", "scale": {"domain": [0, 14], "nice": false, "zero": false}, "axis": {"orient": "left", "values": [0,2,4,6,8,10,12,14], "tickSize": 7, "labels": false, "title": null, "minExtent": 31}},
    "color": {"field": "g", "type": "nominal", "scale": {"domain": ["2p","4p","8p","2l","4e","4l","8l"], "range": ["#000000","#ff0000","#176a90","#9a9a9a","#a00d0d","#ffa500","#1fb3ea"]}, "legend": null}}},
  {"data": {"name": "il"}, "mark": {"type": "line", "strokeWidth": 3, "clip": true},
   "encoding": {
    "x": {"field": "x", "type": "quantitative", "scale": {"domain": [0, 10], "nice": false, "zero": false}, "axis": null},
    "y": {"field": "y", "type": "quantitative", "scale": {"domain": [0, 14], "nice": false, "zero": false}, "axis": null},
    "color": {"field": "g", "type": "nominal", "scale": {"domain": ["2p","4p","8p","2l","4e","4l","8l"], "range": ["#000000","#ff0000","#176a90","#9a9a9a","#a00d0d","#ffa500","#1fb3ea"]}, "legend": null}}},
  {"data": {"values": []}, "mark": "point", "encoding": {
    "x": {"field": "x", "type": "quantitative", "scale": {"domain": [0, 10], "nice": false, "zero": false}, "axis": {"orient": "top", "values": [0,2,4,6,8,10], "tickSize": 7, "labels": false, "title": null, "minExtent": 31}},
    "y": {"field": "y", "type": "quantitative", "scale": {"domain": [0, 14], "nice": false, "zero": false}, "axis": {"orient": "right", "values": [0,2,4,6,8,10,12,14], "tickSize": 7, "labels": false, "title": null, "minExtent": 0}}}},
  {"data": {"values": []}, "mark": "point", "encoding": {
    "x": {"field": "x", "type": "quantitative", "scale": {"domain": [0, 10], "nice": false, "zero": false}, "axis": {"orient": "bottom", "values": [0.5,1,1.5,2.5,3,3.5,4.5,5,5.5,6.5,7,7.5,8.5,9,9.5], "tickSize": 4, "labels": false, "domain": false, "title": null, "minExtent": 0}},
    "y": {"field": "y", "type": "quantitative", "scale": {"domain": [0, 14], "nice": false, "zero": false}, "axis": {"orient": "left", "values": [0.5,1,1.5,2.5,3,3.5,4.5,5,5.5,6.5,7,7.5,8.5,9,9.5,10.5,11,11.5,12.5,13,13.5], "tickSize": 4, "labels": false, "domain": false, "title": null, "minExtent": 0}}}},
  {"data": {"values": []}, "mark": "point", "encoding": {
    "x": {"field": "x", "type": "quantitative", "scale": {"domain": [0, 10], "nice": false, "zero": false}, "axis": {"orient": "top", "values": [0.5,1,1.5,2.5,3,3.5,4.5,5,5.5,6.5,7,7.5,8.5,9,9.5], "tickSize": 4, "labels": false, "domain": false, "title": null, "minExtent": 0}},
    "y": {"field": "y", "type": "quantitative", "scale": {"domain": [0, 14], "nice": false, "zero": false}, "axis": {"orient": "right", "values": [0.5,1,1.5,2.5,3,3.5,4.5,5,5.5,6.5,7,7.5,8.5,9,9.5,10.5,11,11.5,12.5,13,13.5], "tickSize": 4, "labels": false, "domain": false, "title": null, "minExtent": 0}}}},
  {"data": {"values": [{"lab": "i)"}]}, "mark": {"type": "text", "align": "right", "baseline": "alphabetic", "fontSize": 26, "font": "Liberation Sans", "color": "#000000"},
   "encoding": {
    "x": {"datum": 9.52, "type": "quantitative", "scale": {"domain": [0, 10], "nice": false, "zero": false}, "axis": null},
    "y": {"datum": 11.37, "type": "quantitative", "scale": {"domain": [0, 14], "nice": false, "zero": false}, "axis": null},
    "text": {"field": "lab"}}}
 ],
 "resolve": {"axis": {"x": "independent", "y": "independent"}}
}
]
}
